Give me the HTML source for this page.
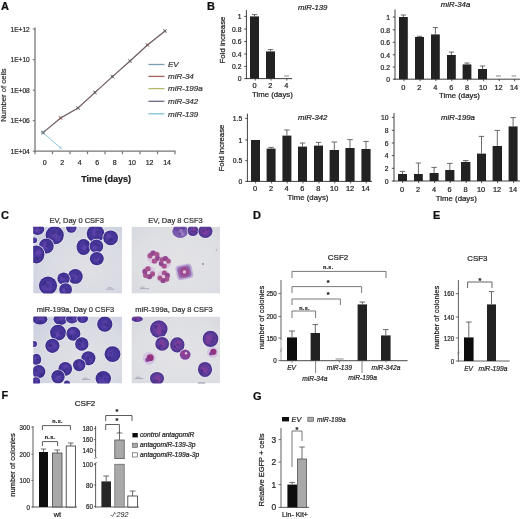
<!DOCTYPE html>
<html><head><meta charset="utf-8"><title>Figure</title>
<style>
html,body{margin:0;padding:0;background:#fff;}
body{width:520px;height:519px;overflow:hidden;font-family:"Liberation Sans",sans-serif;}
svg{display:block;font-family:"Liberation Sans",sans-serif;}
</style></head><body>
<svg width="520" height="519" viewBox="0 0 520 519">
<defs><filter id="tb" x="0" y="0" width="520" height="519" filterUnits="userSpaceOnUse"><feGaussianBlur stdDeviation="0.32"/></filter></defs>
<rect width="520" height="519" fill="#fff"/>
<g filter="url(#tb)">
<text x="1" y="9.9" font-size="11" text-anchor="start" font-weight="bold" font-style="normal" fill="#111" stroke="#111" stroke-width="0.22">A</text>
<line x1="35" y1="27.5" x2="35" y2="151.7" stroke="#767676" stroke-width="1.3"/>
<line x1="34.5" y1="151.2" x2="175.5" y2="151.2" stroke="#767676" stroke-width="1.3"/>
<line x1="32.8" y1="29" x2="35" y2="29" stroke="#767676" stroke-width="1.1"/>
<text x="0" y="0" font-size="6.9" text-anchor="end" font-weight="normal" font-style="normal" fill="#2a2a2a" stroke="#2a2a2a" stroke-width="0.22" transform="translate(29.8 31.5) scale(0.96 1)">1E+12</text>
<line x1="32.8" y1="59.6" x2="35" y2="59.6" stroke="#767676" stroke-width="1.1"/>
<text x="0" y="0" font-size="6.9" text-anchor="end" font-weight="normal" font-style="normal" fill="#2a2a2a" stroke="#2a2a2a" stroke-width="0.22" transform="translate(29.8 62.1) scale(0.96 1)">1E+10</text>
<line x1="32.8" y1="90.2" x2="35" y2="90.2" stroke="#767676" stroke-width="1.1"/>
<text x="0" y="0" font-size="6.9" text-anchor="end" font-weight="normal" font-style="normal" fill="#2a2a2a" stroke="#2a2a2a" stroke-width="0.22" transform="translate(29.8 92.7) scale(0.96 1)">1E+08</text>
<line x1="32.8" y1="120.6" x2="35" y2="120.6" stroke="#767676" stroke-width="1.1"/>
<text x="0" y="0" font-size="6.9" text-anchor="end" font-weight="normal" font-style="normal" fill="#2a2a2a" stroke="#2a2a2a" stroke-width="0.22" transform="translate(29.8 123.1) scale(0.96 1)">1E+06</text>
<line x1="32.8" y1="151.2" x2="35" y2="151.2" stroke="#767676" stroke-width="1.1"/>
<text x="0" y="0" font-size="6.9" text-anchor="end" font-weight="normal" font-style="normal" fill="#2a2a2a" stroke="#2a2a2a" stroke-width="0.22" transform="translate(29.8 153.7) scale(0.96 1)">1E+04</text>
<line x1="35.0" y1="151.2" x2="35.0" y2="154.2" stroke="#767676" stroke-width="1.2"/>
<line x1="52.5" y1="151.2" x2="52.5" y2="154.2" stroke="#767676" stroke-width="1.2"/>
<line x1="70.0" y1="151.2" x2="70.0" y2="154.2" stroke="#767676" stroke-width="1.2"/>
<line x1="87.5" y1="151.2" x2="87.5" y2="154.2" stroke="#767676" stroke-width="1.2"/>
<line x1="105.0" y1="151.2" x2="105.0" y2="154.2" stroke="#767676" stroke-width="1.2"/>
<line x1="122.5" y1="151.2" x2="122.5" y2="154.2" stroke="#767676" stroke-width="1.2"/>
<line x1="140.0" y1="151.2" x2="140.0" y2="154.2" stroke="#767676" stroke-width="1.2"/>
<line x1="157.5" y1="151.2" x2="157.5" y2="154.2" stroke="#767676" stroke-width="1.2"/>
<line x1="175.0" y1="151.2" x2="175.0" y2="154.2" stroke="#767676" stroke-width="1.2"/>
<text x="44.6" y="165.2" font-size="7" text-anchor="middle" font-weight="normal" font-style="normal" fill="#2a2a2a" stroke="#2a2a2a" stroke-width="0.22">0</text>
<text x="62.1" y="165.2" font-size="7" text-anchor="middle" font-weight="normal" font-style="normal" fill="#2a2a2a" stroke="#2a2a2a" stroke-width="0.22">2</text>
<text x="79.6" y="165.2" font-size="7" text-anchor="middle" font-weight="normal" font-style="normal" fill="#2a2a2a" stroke="#2a2a2a" stroke-width="0.22">4</text>
<text x="97.1" y="165.2" font-size="7" text-anchor="middle" font-weight="normal" font-style="normal" fill="#2a2a2a" stroke="#2a2a2a" stroke-width="0.22">6</text>
<text x="114.6" y="165.2" font-size="7" text-anchor="middle" font-weight="normal" font-style="normal" fill="#2a2a2a" stroke="#2a2a2a" stroke-width="0.22">8</text>
<text x="132.1" y="165.2" font-size="7" text-anchor="middle" font-weight="normal" font-style="normal" fill="#2a2a2a" stroke="#2a2a2a" stroke-width="0.22">10</text>
<text x="149.6" y="165.2" font-size="7" text-anchor="middle" font-weight="normal" font-style="normal" fill="#2a2a2a" stroke="#2a2a2a" stroke-width="0.22">12</text>
<text x="167.1" y="165.2" font-size="7" text-anchor="middle" font-weight="normal" font-style="normal" fill="#2a2a2a" stroke="#2a2a2a" stroke-width="0.22">14</text>
<text x="106.2" y="181.6" font-size="9" text-anchor="middle" font-weight="bold" font-style="normal" fill="#1a1a1a" stroke="#1a1a1a" stroke-width="0.22">Time (days)</text>
<text x="6.3" y="95" font-size="7.7" text-anchor="middle" font-weight="normal" font-style="normal" fill="#333" stroke="#333" stroke-width="0.22" transform="rotate(-90 6.3 95)">Number of cells</text>
<polyline points="43,132.6 60.6,148" fill="none" stroke="#7fc0d6" stroke-width="0.9"/>
<polyline points="43,132.6 60.6,118 78,108 95,92.4 112.4,76.6 130,61 147.4,45 165,31" fill="none" stroke="#665c62" stroke-width="1.1"/>
<polyline points="43,132.6 60.6,118 78,108 95,92.4 112.4,76.6 130,61 147.4,45 165,31" fill="none" stroke="#8a5a58" stroke-width="0.3" transform="translate(0.3,0.3)"/>
<rect x="41.8" y="131.4" width="2.4" height="2.4" fill="#6a686c" stroke="none" stroke-width="1"/>
<line x1="41.2" y1="130.79999999999998" x2="44.8" y2="134.4" stroke="#6a686c" stroke-width="0.8"/>
<line x1="41.2" y1="134.4" x2="44.8" y2="130.79999999999998" stroke="#6a686c" stroke-width="0.8"/>
<rect x="59.4" y="116.8" width="2.4" height="2.4" fill="#8c6262" stroke="none" stroke-width="1"/>
<line x1="58.800000000000004" y1="116.2" x2="62.4" y2="119.8" stroke="#8c6262" stroke-width="0.8"/>
<line x1="58.800000000000004" y1="119.8" x2="62.4" y2="116.2" stroke="#8c6262" stroke-width="0.8"/>
<rect x="76.8" y="106.8" width="2.4" height="2.4" fill="#6a686c" stroke="none" stroke-width="1"/>
<line x1="76.2" y1="106.2" x2="79.8" y2="109.8" stroke="#6a686c" stroke-width="0.8"/>
<line x1="76.2" y1="109.8" x2="79.8" y2="106.2" stroke="#6a686c" stroke-width="0.8"/>
<rect x="93.8" y="91.2" width="2.4" height="2.4" fill="#6a686c" stroke="none" stroke-width="1"/>
<line x1="93.2" y1="90.60000000000001" x2="96.8" y2="94.2" stroke="#6a686c" stroke-width="0.8"/>
<line x1="93.2" y1="94.2" x2="96.8" y2="90.60000000000001" stroke="#6a686c" stroke-width="0.8"/>
<rect x="111.2" y="75.39999999999999" width="2.4" height="2.4" fill="#6a686c" stroke="none" stroke-width="1"/>
<line x1="110.60000000000001" y1="74.8" x2="114.2" y2="78.39999999999999" stroke="#6a686c" stroke-width="0.8"/>
<line x1="110.60000000000001" y1="78.39999999999999" x2="114.2" y2="74.8" stroke="#6a686c" stroke-width="0.8"/>
<rect x="128.8" y="59.8" width="2.4" height="2.4" fill="#6a686c" stroke="none" stroke-width="1"/>
<line x1="128.2" y1="59.2" x2="131.8" y2="62.8" stroke="#6a686c" stroke-width="0.8"/>
<line x1="128.2" y1="62.8" x2="131.8" y2="59.2" stroke="#6a686c" stroke-width="0.8"/>
<rect x="146.20000000000002" y="43.8" width="2.4" height="2.4" fill="#8c6262" stroke="none" stroke-width="1"/>
<line x1="145.6" y1="43.2" x2="149.20000000000002" y2="46.8" stroke="#8c6262" stroke-width="0.8"/>
<line x1="145.6" y1="46.8" x2="149.20000000000002" y2="43.2" stroke="#8c6262" stroke-width="0.8"/>
<rect x="163.8" y="29.8" width="2.4" height="2.4" fill="#6a686c" stroke="none" stroke-width="1"/>
<line x1="163.2" y1="29.2" x2="166.8" y2="32.8" stroke="#6a686c" stroke-width="0.8"/>
<line x1="163.2" y1="32.8" x2="166.8" y2="29.2" stroke="#6a686c" stroke-width="0.8"/>
<rect x="41.7" y="131.29999999999998" width="2.6" height="2.6" fill="#6d8a96" stroke="none" stroke-width="1"/>
<line x1="59.4" y1="146.8" x2="61.8" y2="149.2" stroke="#7fc0d6" stroke-width="0.8"/>
<line x1="59.4" y1="149.2" x2="61.8" y2="146.8" stroke="#7fc0d6" stroke-width="0.8"/>
<line x1="148.4" y1="64.5" x2="164.4" y2="64.5" stroke="#7a9db6" stroke-width="1.3"/>
<text x="168" y="67.3" font-size="8" text-anchor="start" font-weight="normal" font-style="italic" fill="#333" stroke="#333" stroke-width="0.22">EV</text>
<line x1="148.4" y1="76.4" x2="164.4" y2="76.4" stroke="#a3625a" stroke-width="1.3"/>
<text x="168" y="79.2" font-size="8" text-anchor="start" font-weight="normal" font-style="italic" fill="#333" stroke="#333" stroke-width="0.22">miR-34</text>
<line x1="148.4" y1="88.6" x2="164.4" y2="88.6" stroke="#b4b66e" stroke-width="1.3"/>
<text x="168" y="91.39999999999999" font-size="8" text-anchor="start" font-weight="normal" font-style="italic" fill="#333" stroke="#333" stroke-width="0.22">miR-199a</text>
<line x1="148.4" y1="101.3" x2="164.4" y2="101.3" stroke="#6c6880" stroke-width="1.3"/>
<text x="168" y="104.1" font-size="8" text-anchor="start" font-weight="normal" font-style="italic" fill="#333" stroke="#333" stroke-width="0.22">miR-342</text>
<line x1="148.4" y1="113.8" x2="164.4" y2="113.8" stroke="#7fc0d6" stroke-width="1.3"/>
<text x="168" y="116.6" font-size="8" text-anchor="start" font-weight="normal" font-style="italic" fill="#333" stroke="#333" stroke-width="0.22">miR-139</text>
<text x="207" y="9.8" font-size="11" text-anchor="start" font-weight="bold" font-style="normal" fill="#111" stroke="#111" stroke-width="0.22">B</text>
<line x1="246.4" y1="10" x2="246.4" y2="79.0" stroke="#2a2a2a" stroke-width="0.9"/>
<line x1="246.0" y1="78.6" x2="292" y2="78.6" stroke="#2a2a2a" stroke-width="0.9"/>
<line x1="244.20000000000002" y1="16.4" x2="246.4" y2="16.4" stroke="#2a2a2a" stroke-width="0.8"/>
<text x="0" y="0" font-size="7.4" text-anchor="end" font-weight="normal" font-style="normal" fill="#222" stroke="#222" stroke-width="0.22" transform="translate(241.5 19.099999999999998) scale(0.92 1)">1</text>
<line x1="244.20000000000002" y1="29" x2="246.4" y2="29" stroke="#2a2a2a" stroke-width="0.8"/>
<text x="0" y="0" font-size="7.4" text-anchor="end" font-weight="normal" font-style="normal" fill="#222" stroke="#222" stroke-width="0.22" transform="translate(241.5 31.7) scale(0.92 1)">0.8</text>
<line x1="244.20000000000002" y1="41.5" x2="246.4" y2="41.5" stroke="#2a2a2a" stroke-width="0.8"/>
<text x="0" y="0" font-size="7.4" text-anchor="end" font-weight="normal" font-style="normal" fill="#222" stroke="#222" stroke-width="0.22" transform="translate(241.5 44.2) scale(0.92 1)">0.6</text>
<line x1="244.20000000000002" y1="54" x2="246.4" y2="54" stroke="#2a2a2a" stroke-width="0.8"/>
<text x="0" y="0" font-size="7.4" text-anchor="end" font-weight="normal" font-style="normal" fill="#222" stroke="#222" stroke-width="0.22" transform="translate(241.5 56.7) scale(0.92 1)">0.4</text>
<line x1="244.20000000000002" y1="66.4" x2="246.4" y2="66.4" stroke="#2a2a2a" stroke-width="0.8"/>
<text x="0" y="0" font-size="7.4" text-anchor="end" font-weight="normal" font-style="normal" fill="#222" stroke="#222" stroke-width="0.22" transform="translate(241.5 69.10000000000001) scale(0.92 1)">0.2</text>
<line x1="244.20000000000002" y1="78.6" x2="246.4" y2="78.6" stroke="#2a2a2a" stroke-width="0.8"/>
<text x="0" y="0" font-size="7.4" text-anchor="end" font-weight="normal" font-style="normal" fill="#222" stroke="#222" stroke-width="0.22" transform="translate(241.5 81.3) scale(0.92 1)">0</text>
<rect x="250" y="16.4" width="9" height="62.199999999999996" fill="#232323" stroke="none" stroke-width="0.8"/>
<line x1="254.5" y1="16.4" x2="254.5" y2="14.6" stroke="#5a5a5a" stroke-width="0.9"/>
<line x1="251.8" y1="14.6" x2="257.2" y2="14.6" stroke="#5a5a5a" stroke-width="0.9"/>
<rect x="266" y="51.4" width="9" height="27.199999999999996" fill="#232323" stroke="none" stroke-width="0.8"/>
<line x1="270.5" y1="51.4" x2="270.5" y2="49.6" stroke="#5a5a5a" stroke-width="0.9"/>
<line x1="267.8" y1="49.6" x2="273.2" y2="49.6" stroke="#5a5a5a" stroke-width="0.9"/>
<line x1="284" y1="76" x2="289" y2="76" stroke="#555" stroke-width="0.7"/>
<text x="254.6" y="88.3" font-size="7.4" text-anchor="middle" font-weight="normal" font-style="normal" fill="#222" stroke="#222" stroke-width="0.22">0</text>
<text x="270.4" y="88.3" font-size="7.4" text-anchor="middle" font-weight="normal" font-style="normal" fill="#222" stroke="#222" stroke-width="0.22">2</text>
<text x="286.2" y="88.3" font-size="7.4" text-anchor="middle" font-weight="normal" font-style="normal" fill="#222" stroke="#222" stroke-width="0.22">4</text>
<line x1="255.2" y1="78.6" x2="255.2" y2="80.6" stroke="#2a2a2a" stroke-width="0.8"/>
<line x1="271.0" y1="78.6" x2="271.0" y2="80.6" stroke="#2a2a2a" stroke-width="0.8"/>
<line x1="286.8" y1="78.6" x2="286.8" y2="80.6" stroke="#2a2a2a" stroke-width="0.8"/>
<text x="272.4" y="96.8" font-size="7.8" text-anchor="middle" font-weight="normal" font-style="normal" fill="#222" stroke="#222" stroke-width="0.22">Time (days)</text>
<text x="312.7" y="9.8" font-size="7.8" text-anchor="middle" font-weight="normal" font-style="italic" fill="#222" stroke="#222" stroke-width="0.22">miR-139</text>
<text x="224.8" y="40" font-size="7.8" text-anchor="middle" font-weight="normal" font-style="normal" fill="#222" stroke="#222" stroke-width="0.22" transform="rotate(-90 224.8 40)">Fold increase</text>
<line x1="395" y1="9.5" x2="395" y2="79.60000000000001" stroke="#2a2a2a" stroke-width="0.9"/>
<line x1="394.6" y1="79.2" x2="520" y2="79.2" stroke="#2a2a2a" stroke-width="0.9"/>
<line x1="392.8" y1="17" x2="395" y2="17" stroke="#2a2a2a" stroke-width="0.8"/>
<text x="0" y="0" font-size="7.4" text-anchor="end" font-weight="normal" font-style="normal" fill="#222" stroke="#222" stroke-width="0.22" transform="translate(390 19.7) scale(0.92 1)">1</text>
<line x1="392.8" y1="29.8" x2="395" y2="29.8" stroke="#2a2a2a" stroke-width="0.8"/>
<text x="0" y="0" font-size="7.4" text-anchor="end" font-weight="normal" font-style="normal" fill="#222" stroke="#222" stroke-width="0.22" transform="translate(390 32.5) scale(0.92 1)">0.8</text>
<line x1="392.8" y1="42.3" x2="395" y2="42.3" stroke="#2a2a2a" stroke-width="0.8"/>
<text x="0" y="0" font-size="7.4" text-anchor="end" font-weight="normal" font-style="normal" fill="#222" stroke="#222" stroke-width="0.22" transform="translate(390 45.0) scale(0.92 1)">0.6</text>
<line x1="392.8" y1="54.8" x2="395" y2="54.8" stroke="#2a2a2a" stroke-width="0.8"/>
<text x="0" y="0" font-size="7.4" text-anchor="end" font-weight="normal" font-style="normal" fill="#222" stroke="#222" stroke-width="0.22" transform="translate(390 57.5) scale(0.92 1)">0.4</text>
<line x1="392.8" y1="67" x2="395" y2="67" stroke="#2a2a2a" stroke-width="0.8"/>
<text x="0" y="0" font-size="7.4" text-anchor="end" font-weight="normal" font-style="normal" fill="#222" stroke="#222" stroke-width="0.22" transform="translate(390 69.7) scale(0.92 1)">0.2</text>
<line x1="392.8" y1="79.2" x2="395" y2="79.2" stroke="#2a2a2a" stroke-width="0.8"/>
<text x="0" y="0" font-size="7.4" text-anchor="end" font-weight="normal" font-style="normal" fill="#222" stroke="#222" stroke-width="0.22" transform="translate(390 81.9) scale(0.92 1)">0</text>
<rect x="399" y="17" width="8.800000000000011" height="62.2" fill="#232323" stroke="none" stroke-width="0.8"/>
<line x1="403.4" y1="17" x2="403.4" y2="15" stroke="#5a5a5a" stroke-width="0.9"/>
<line x1="400.76" y1="15" x2="406.03999999999996" y2="15" stroke="#5a5a5a" stroke-width="0.9"/>
<rect x="415" y="37" width="9" height="42.2" fill="#232323" stroke="none" stroke-width="0.8"/>
<line x1="419.5" y1="37" x2="419.5" y2="36.3" stroke="#5a5a5a" stroke-width="0.9"/>
<line x1="416.8" y1="36.3" x2="422.2" y2="36.3" stroke="#5a5a5a" stroke-width="0.9"/>
<rect x="431" y="34.4" width="8.800000000000011" height="44.800000000000004" fill="#232323" stroke="none" stroke-width="0.8"/>
<line x1="435.4" y1="34.4" x2="435.4" y2="27.6" stroke="#5a5a5a" stroke-width="0.9"/>
<line x1="432.76" y1="27.6" x2="438.03999999999996" y2="27.6" stroke="#5a5a5a" stroke-width="0.9"/>
<rect x="447" y="55" width="8.800000000000011" height="24.200000000000003" fill="#232323" stroke="none" stroke-width="0.8"/>
<line x1="451.4" y1="55" x2="451.4" y2="52" stroke="#5a5a5a" stroke-width="0.9"/>
<line x1="448.76" y1="52" x2="454.03999999999996" y2="52" stroke="#5a5a5a" stroke-width="0.9"/>
<rect x="462.6" y="64.4" width="8.799999999999955" height="14.799999999999997" fill="#232323" stroke="none" stroke-width="0.8"/>
<line x1="467.0" y1="64.4" x2="467.0" y2="63" stroke="#5a5a5a" stroke-width="0.9"/>
<line x1="464.36" y1="63" x2="469.64" y2="63" stroke="#5a5a5a" stroke-width="0.9"/>
<rect x="478" y="69" width="9" height="10.200000000000003" fill="#232323" stroke="none" stroke-width="0.8"/>
<line x1="482.5" y1="69" x2="482.5" y2="66" stroke="#5a5a5a" stroke-width="0.9"/>
<line x1="479.8" y1="66" x2="485.2" y2="66" stroke="#5a5a5a" stroke-width="0.9"/>
<line x1="496" y1="76" x2="501" y2="76" stroke="#555" stroke-width="0.7"/>
<line x1="511.6" y1="76" x2="516.2" y2="76" stroke="#555" stroke-width="0.7"/>
<text x="403.4" y="89.8" font-size="7.4" text-anchor="middle" font-weight="normal" font-style="normal" fill="#222" stroke="#222" stroke-width="0.22">0</text>
<text x="419.4" y="89.8" font-size="7.4" text-anchor="middle" font-weight="normal" font-style="normal" fill="#222" stroke="#222" stroke-width="0.22">2</text>
<text x="435.2" y="89.8" font-size="7.4" text-anchor="middle" font-weight="normal" font-style="normal" fill="#222" stroke="#222" stroke-width="0.22">4</text>
<text x="451.2" y="89.8" font-size="7.4" text-anchor="middle" font-weight="normal" font-style="normal" fill="#222" stroke="#222" stroke-width="0.22">6</text>
<text x="467" y="89.8" font-size="7.4" text-anchor="middle" font-weight="normal" font-style="normal" fill="#222" stroke="#222" stroke-width="0.22">8</text>
<text x="483" y="89.8" font-size="7.4" text-anchor="middle" font-weight="normal" font-style="normal" fill="#222" stroke="#222" stroke-width="0.22">10</text>
<text x="498.6" y="89.8" font-size="7.4" text-anchor="middle" font-weight="normal" font-style="normal" fill="#222" stroke="#222" stroke-width="0.22">12</text>
<text x="514" y="89.8" font-size="7.4" text-anchor="middle" font-weight="normal" font-style="normal" fill="#222" stroke="#222" stroke-width="0.22">14</text>
<line x1="404.0" y1="79.2" x2="404.0" y2="81.2" stroke="#2a2a2a" stroke-width="0.8"/>
<line x1="420.0" y1="79.2" x2="420.0" y2="81.2" stroke="#2a2a2a" stroke-width="0.8"/>
<line x1="435.8" y1="79.2" x2="435.8" y2="81.2" stroke="#2a2a2a" stroke-width="0.8"/>
<line x1="451.8" y1="79.2" x2="451.8" y2="81.2" stroke="#2a2a2a" stroke-width="0.8"/>
<line x1="467.6" y1="79.2" x2="467.6" y2="81.2" stroke="#2a2a2a" stroke-width="0.8"/>
<line x1="483.6" y1="79.2" x2="483.6" y2="81.2" stroke="#2a2a2a" stroke-width="0.8"/>
<line x1="499.20000000000005" y1="79.2" x2="499.20000000000005" y2="81.2" stroke="#2a2a2a" stroke-width="0.8"/>
<line x1="514.6" y1="79.2" x2="514.6" y2="81.2" stroke="#2a2a2a" stroke-width="0.8"/>
<text x="459.5" y="98.4" font-size="7.8" text-anchor="middle" font-weight="normal" font-style="normal" fill="#222" stroke="#222" stroke-width="0.22">Time (days)</text>
<text x="455.5" y="7.2" font-size="7.8" text-anchor="middle" font-weight="normal" font-style="italic" fill="#222" stroke="#222" stroke-width="0.22">miR-34a</text>
<line x1="247.4" y1="113.6" x2="247.4" y2="181.8" stroke="#2a2a2a" stroke-width="0.9"/>
<line x1="247.0" y1="181.4" x2="372" y2="181.4" stroke="#2a2a2a" stroke-width="0.9"/>
<line x1="245.20000000000002" y1="118.4" x2="247.4" y2="118.4" stroke="#2a2a2a" stroke-width="0.8"/>
<text x="0" y="0" font-size="7.4" text-anchor="end" font-weight="normal" font-style="normal" fill="#222" stroke="#222" stroke-width="0.22" transform="translate(242.3 121.10000000000001) scale(0.92 1)">1.5</text>
<line x1="245.20000000000002" y1="140" x2="247.4" y2="140" stroke="#2a2a2a" stroke-width="0.8"/>
<text x="0" y="0" font-size="7.4" text-anchor="end" font-weight="normal" font-style="normal" fill="#222" stroke="#222" stroke-width="0.22" transform="translate(242.3 142.7) scale(0.92 1)">1</text>
<line x1="245.20000000000002" y1="160.7" x2="247.4" y2="160.7" stroke="#2a2a2a" stroke-width="0.8"/>
<text x="0" y="0" font-size="7.4" text-anchor="end" font-weight="normal" font-style="normal" fill="#222" stroke="#222" stroke-width="0.22" transform="translate(242.3 163.39999999999998) scale(0.92 1)">0.5</text>
<line x1="245.20000000000002" y1="181.4" x2="247.4" y2="181.4" stroke="#2a2a2a" stroke-width="0.8"/>
<text x="0" y="0" font-size="7.4" text-anchor="end" font-weight="normal" font-style="normal" fill="#222" stroke="#222" stroke-width="0.22" transform="translate(242.3 184.1) scale(0.92 1)">0</text>
<rect x="251" y="140" width="9" height="41.400000000000006" fill="#232323" stroke="none" stroke-width="0.8"/>
<rect x="266.6" y="148.6" width="9.0" height="32.80000000000001" fill="#232323" stroke="none" stroke-width="0.8"/>
<line x1="271.1" y1="148.6" x2="271.1" y2="147.4" stroke="#5a5a5a" stroke-width="0.9"/>
<line x1="268.40000000000003" y1="147.4" x2="273.8" y2="147.4" stroke="#5a5a5a" stroke-width="0.9"/>
<rect x="282.4" y="135.6" width="9.0" height="45.80000000000001" fill="#232323" stroke="none" stroke-width="0.8"/>
<line x1="286.9" y1="135.6" x2="286.9" y2="130" stroke="#5a5a5a" stroke-width="0.9"/>
<line x1="284.2" y1="130" x2="289.59999999999997" y2="130" stroke="#5a5a5a" stroke-width="0.9"/>
<rect x="298" y="146.6" width="9" height="34.80000000000001" fill="#232323" stroke="none" stroke-width="0.8"/>
<line x1="302.5" y1="146.6" x2="302.5" y2="143" stroke="#5a5a5a" stroke-width="0.9"/>
<line x1="299.8" y1="143" x2="305.2" y2="143" stroke="#5a5a5a" stroke-width="0.9"/>
<rect x="314" y="145.6" width="9" height="35.80000000000001" fill="#232323" stroke="none" stroke-width="0.8"/>
<line x1="318.5" y1="145.6" x2="318.5" y2="142.4" stroke="#5a5a5a" stroke-width="0.9"/>
<line x1="315.8" y1="142.4" x2="321.2" y2="142.4" stroke="#5a5a5a" stroke-width="0.9"/>
<rect x="329.6" y="150" width="9.399999999999977" height="31.400000000000006" fill="#232323" stroke="none" stroke-width="0.8"/>
<line x1="334.3" y1="150" x2="334.3" y2="142" stroke="#5a5a5a" stroke-width="0.9"/>
<line x1="331.48" y1="142" x2="337.12" y2="142" stroke="#5a5a5a" stroke-width="0.9"/>
<rect x="345.4" y="148" width="9.200000000000045" height="33.400000000000006" fill="#232323" stroke="none" stroke-width="0.8"/>
<line x1="350.0" y1="148" x2="350.0" y2="139.6" stroke="#5a5a5a" stroke-width="0.9"/>
<line x1="347.24" y1="139.6" x2="352.76" y2="139.6" stroke="#5a5a5a" stroke-width="0.9"/>
<rect x="361.4" y="149" width="9.200000000000045" height="32.400000000000006" fill="#232323" stroke="none" stroke-width="0.8"/>
<line x1="366.0" y1="149" x2="366.0" y2="141.4" stroke="#5a5a5a" stroke-width="0.9"/>
<line x1="363.24" y1="141.4" x2="368.76" y2="141.4" stroke="#5a5a5a" stroke-width="0.9"/>
<text x="255" y="191.3" font-size="7.4" text-anchor="middle" font-weight="normal" font-style="normal" fill="#222" stroke="#222" stroke-width="0.22">0</text>
<text x="271" y="191.3" font-size="7.4" text-anchor="middle" font-weight="normal" font-style="normal" fill="#222" stroke="#222" stroke-width="0.22">2</text>
<text x="286.6" y="191.3" font-size="7.4" text-anchor="middle" font-weight="normal" font-style="normal" fill="#222" stroke="#222" stroke-width="0.22">4</text>
<text x="302.4" y="191.3" font-size="7.4" text-anchor="middle" font-weight="normal" font-style="normal" fill="#222" stroke="#222" stroke-width="0.22">6</text>
<text x="318.4" y="191.3" font-size="7.4" text-anchor="middle" font-weight="normal" font-style="normal" fill="#222" stroke="#222" stroke-width="0.22">8</text>
<text x="334.2" y="191.3" font-size="7.4" text-anchor="middle" font-weight="normal" font-style="normal" fill="#222" stroke="#222" stroke-width="0.22">10</text>
<text x="350" y="191.3" font-size="7.4" text-anchor="middle" font-weight="normal" font-style="normal" fill="#222" stroke="#222" stroke-width="0.22">12</text>
<text x="365.6" y="191.3" font-size="7.4" text-anchor="middle" font-weight="normal" font-style="normal" fill="#222" stroke="#222" stroke-width="0.22">14</text>
<line x1="255.6" y1="181.4" x2="255.6" y2="183.4" stroke="#2a2a2a" stroke-width="0.8"/>
<line x1="271.6" y1="181.4" x2="271.6" y2="183.4" stroke="#2a2a2a" stroke-width="0.8"/>
<line x1="287.20000000000005" y1="181.4" x2="287.20000000000005" y2="183.4" stroke="#2a2a2a" stroke-width="0.8"/>
<line x1="303.0" y1="181.4" x2="303.0" y2="183.4" stroke="#2a2a2a" stroke-width="0.8"/>
<line x1="319.0" y1="181.4" x2="319.0" y2="183.4" stroke="#2a2a2a" stroke-width="0.8"/>
<line x1="334.8" y1="181.4" x2="334.8" y2="183.4" stroke="#2a2a2a" stroke-width="0.8"/>
<line x1="350.6" y1="181.4" x2="350.6" y2="183.4" stroke="#2a2a2a" stroke-width="0.8"/>
<line x1="366.20000000000005" y1="181.4" x2="366.20000000000005" y2="183.4" stroke="#2a2a2a" stroke-width="0.8"/>
<text x="308" y="200.3" font-size="7.8" text-anchor="middle" font-weight="normal" font-style="normal" fill="#222" stroke="#222" stroke-width="0.22">Time (days)</text>
<text x="312.7" y="120.2" font-size="7.8" text-anchor="middle" font-weight="normal" font-style="italic" fill="#222" stroke="#222" stroke-width="0.22">miR-342</text>
<text x="224.4" y="148" font-size="7.8" text-anchor="middle" font-weight="normal" font-style="normal" fill="#222" stroke="#222" stroke-width="0.22" transform="rotate(-90 224.4 148)">Fold increase</text>
<line x1="394" y1="113" x2="394" y2="181.4" stroke="#2a2a2a" stroke-width="0.9"/>
<line x1="393.6" y1="181" x2="520" y2="181" stroke="#2a2a2a" stroke-width="0.9"/>
<line x1="391.8" y1="117.4" x2="394" y2="117.4" stroke="#2a2a2a" stroke-width="0.8"/>
<text x="0" y="0" font-size="7.4" text-anchor="end" font-weight="normal" font-style="normal" fill="#222" stroke="#222" stroke-width="0.22" transform="translate(388.5 120.10000000000001) scale(0.92 1)">10</text>
<line x1="391.8" y1="130.3" x2="394" y2="130.3" stroke="#2a2a2a" stroke-width="0.8"/>
<text x="0" y="0" font-size="7.4" text-anchor="end" font-weight="normal" font-style="normal" fill="#222" stroke="#222" stroke-width="0.22" transform="translate(388.5 133.0) scale(0.92 1)">8</text>
<line x1="391.8" y1="143" x2="394" y2="143" stroke="#2a2a2a" stroke-width="0.8"/>
<text x="0" y="0" font-size="7.4" text-anchor="end" font-weight="normal" font-style="normal" fill="#222" stroke="#222" stroke-width="0.22" transform="translate(388.5 145.7) scale(0.92 1)">6</text>
<line x1="391.8" y1="155.6" x2="394" y2="155.6" stroke="#2a2a2a" stroke-width="0.8"/>
<text x="0" y="0" font-size="7.4" text-anchor="end" font-weight="normal" font-style="normal" fill="#222" stroke="#222" stroke-width="0.22" transform="translate(388.5 158.29999999999998) scale(0.92 1)">4</text>
<line x1="391.8" y1="168.3" x2="394" y2="168.3" stroke="#2a2a2a" stroke-width="0.8"/>
<text x="0" y="0" font-size="7.4" text-anchor="end" font-weight="normal" font-style="normal" fill="#222" stroke="#222" stroke-width="0.22" transform="translate(388.5 171.0) scale(0.92 1)">2</text>
<line x1="391.8" y1="181" x2="394" y2="181" stroke="#2a2a2a" stroke-width="0.8"/>
<text x="0" y="0" font-size="7.4" text-anchor="end" font-weight="normal" font-style="normal" fill="#222" stroke="#222" stroke-width="0.22" transform="translate(388.5 183.7) scale(0.92 1)">0</text>
<rect x="398" y="174" width="9" height="7" fill="#232323" stroke="none" stroke-width="0.8"/>
<line x1="402.5" y1="174" x2="402.5" y2="171.4" stroke="#5a5a5a" stroke-width="0.9"/>
<line x1="399.8" y1="171.4" x2="405.2" y2="171.4" stroke="#5a5a5a" stroke-width="0.9"/>
<rect x="414" y="174" width="8.800000000000011" height="7" fill="#232323" stroke="none" stroke-width="0.8"/>
<line x1="418.4" y1="174" x2="418.4" y2="163" stroke="#5a5a5a" stroke-width="0.9"/>
<line x1="415.76" y1="163" x2="421.03999999999996" y2="163" stroke="#5a5a5a" stroke-width="0.9"/>
<rect x="429.6" y="173" width="9.0" height="8" fill="#232323" stroke="none" stroke-width="0.8"/>
<line x1="434.1" y1="173" x2="434.1" y2="167.4" stroke="#5a5a5a" stroke-width="0.9"/>
<line x1="431.40000000000003" y1="167.4" x2="436.8" y2="167.4" stroke="#5a5a5a" stroke-width="0.9"/>
<rect x="445.2" y="170" width="9.199999999999989" height="11" fill="#232323" stroke="none" stroke-width="0.8"/>
<line x1="449.79999999999995" y1="170" x2="449.79999999999995" y2="163.4" stroke="#5a5a5a" stroke-width="0.9"/>
<line x1="447.03999999999996" y1="163.4" x2="452.55999999999995" y2="163.4" stroke="#5a5a5a" stroke-width="0.9"/>
<rect x="461" y="162" width="9.399999999999977" height="19" fill="#232323" stroke="none" stroke-width="0.8"/>
<line x1="465.7" y1="162" x2="465.7" y2="160.6" stroke="#5a5a5a" stroke-width="0.9"/>
<line x1="462.88" y1="160.6" x2="468.52" y2="160.6" stroke="#5a5a5a" stroke-width="0.9"/>
<rect x="477" y="153.6" width="9" height="27.400000000000006" fill="#232323" stroke="none" stroke-width="0.8"/>
<line x1="481.5" y1="153.6" x2="481.5" y2="136.4" stroke="#5a5a5a" stroke-width="0.9"/>
<line x1="478.8" y1="136.4" x2="484.2" y2="136.4" stroke="#5a5a5a" stroke-width="0.9"/>
<rect x="492.6" y="146" width="9.399999999999977" height="35" fill="#232323" stroke="none" stroke-width="0.8"/>
<line x1="497.3" y1="146" x2="497.3" y2="130.4" stroke="#5a5a5a" stroke-width="0.9"/>
<line x1="494.48" y1="130.4" x2="500.12" y2="130.4" stroke="#5a5a5a" stroke-width="0.9"/>
<rect x="508.6" y="126.4" width="9.0" height="54.599999999999994" fill="#232323" stroke="none" stroke-width="0.8"/>
<line x1="513.1" y1="126.4" x2="513.1" y2="117.6" stroke="#5a5a5a" stroke-width="0.9"/>
<line x1="510.40000000000003" y1="117.6" x2="515.8000000000001" y2="117.6" stroke="#5a5a5a" stroke-width="0.9"/>
<text x="402" y="192" font-size="7.4" text-anchor="middle" font-weight="normal" font-style="normal" fill="#222" stroke="#222" stroke-width="0.22">0</text>
<text x="418" y="192" font-size="7.4" text-anchor="middle" font-weight="normal" font-style="normal" fill="#222" stroke="#222" stroke-width="0.22">2</text>
<text x="434" y="192" font-size="7.4" text-anchor="middle" font-weight="normal" font-style="normal" fill="#222" stroke="#222" stroke-width="0.22">4</text>
<text x="449.6" y="192" font-size="7.4" text-anchor="middle" font-weight="normal" font-style="normal" fill="#222" stroke="#222" stroke-width="0.22">6</text>
<text x="465.6" y="192" font-size="7.4" text-anchor="middle" font-weight="normal" font-style="normal" fill="#222" stroke="#222" stroke-width="0.22">8</text>
<text x="481" y="192" font-size="7.4" text-anchor="middle" font-weight="normal" font-style="normal" fill="#222" stroke="#222" stroke-width="0.22">10</text>
<text x="497" y="192" font-size="7.4" text-anchor="middle" font-weight="normal" font-style="normal" fill="#222" stroke="#222" stroke-width="0.22">12</text>
<text x="513" y="192" font-size="7.4" text-anchor="middle" font-weight="normal" font-style="normal" fill="#222" stroke="#222" stroke-width="0.22">14</text>
<line x1="402.6" y1="181" x2="402.6" y2="183" stroke="#2a2a2a" stroke-width="0.8"/>
<line x1="418.6" y1="181" x2="418.6" y2="183" stroke="#2a2a2a" stroke-width="0.8"/>
<line x1="434.6" y1="181" x2="434.6" y2="183" stroke="#2a2a2a" stroke-width="0.8"/>
<line x1="450.20000000000005" y1="181" x2="450.20000000000005" y2="183" stroke="#2a2a2a" stroke-width="0.8"/>
<line x1="466.20000000000005" y1="181" x2="466.20000000000005" y2="183" stroke="#2a2a2a" stroke-width="0.8"/>
<line x1="481.6" y1="181" x2="481.6" y2="183" stroke="#2a2a2a" stroke-width="0.8"/>
<line x1="497.6" y1="181" x2="497.6" y2="183" stroke="#2a2a2a" stroke-width="0.8"/>
<line x1="513.6" y1="181" x2="513.6" y2="183" stroke="#2a2a2a" stroke-width="0.8"/>
<text x="456.3" y="200.8" font-size="7.8" text-anchor="middle" font-weight="normal" font-style="normal" fill="#222" stroke="#222" stroke-width="0.22">Time (days)</text>
<text x="458" y="120.2" font-size="7.8" text-anchor="middle" font-weight="normal" font-style="italic" fill="#222" stroke="#222" stroke-width="0.22">miR-199a</text>
<text x="1" y="218.5" font-size="11" text-anchor="start" font-weight="bold" font-style="normal" fill="#111" stroke="#111" stroke-width="0.22">C</text>
<text x="76.7" y="222.7" font-size="7.5" text-anchor="middle" font-weight="normal" font-style="normal" fill="#333" stroke="#333" stroke-width="0.22">EV, Day 0 CSF3</text>
<text x="175.5" y="222.7" font-size="7.5" text-anchor="middle" font-weight="normal" font-style="normal" fill="#333" stroke="#333" stroke-width="0.22">EV, Day 8 CSF3</text>
<text x="75.5" y="312.1" font-size="7.5" text-anchor="middle" font-weight="normal" font-style="normal" fill="#333" stroke="#333" stroke-width="0.22">miR-199a, Day 0 CSF3</text>
<text x="174" y="312.1" font-size="7.5" text-anchor="middle" font-weight="normal" font-style="normal" fill="#333" stroke="#333" stroke-width="0.22">miR-199a, Day 8 CSF3</text>
<defs>
<clipPath id="c1"><rect x="33.2" y="226.8" width="88.8" height="66.7"/></clipPath>
<clipPath id="c2"><rect x="131.5" y="226.8" width="88.5" height="66.7"/></clipPath>
<clipPath id="c3"><rect x="33.2" y="316.6" width="88.8" height="66.8"/></clipPath>
<clipPath id="c4"><rect x="131.5" y="316.6" width="88.5" height="66.8"/></clipPath>
<radialGradient id="gBlast" cx="0.5" cy="0.5" r="0.5"><stop offset="0" stop-color="#4b399e"/><stop offset="0.75" stop-color="#453498"/><stop offset="1" stop-color="#382a86"/></radialGradient>
<radialGradient id="gBlastP" cx="0.5" cy="0.5" r="0.5"><stop offset="0" stop-color="#7a42a2"/><stop offset="0.65" stop-color="#5e3c9a"/><stop offset="1" stop-color="#48328c"/></radialGradient>
<radialGradient id="bg1" cx="0.6" cy="0.6" r="0.85"><stop offset="0" stop-color="#e0e0e5"/><stop offset="0.55" stop-color="#d9dbe3"/><stop offset="1" stop-color="#c6cce0"/></radialGradient>
<radialGradient id="bg2" cx="0.55" cy="0.55" r="0.85"><stop offset="0" stop-color="#e3e3e6"/><stop offset="0.6" stop-color="#dedfe3"/><stop offset="1" stop-color="#d2d5de"/></radialGradient>
<filter id="soft" x="-5%" y="-5%" width="110%" height="110%"><feGaussianBlur stdDeviation="0.55"/></filter>
<filter id="soft2" x="-20%" y="-20%" width="140%" height="140%"><feGaussianBlur stdDeviation="0.6"/></filter>
</defs>
<g clip-path="url(#c1)"><rect x="33.2" y="226.8" width="88.8" height="66.7" fill="url(#bg1)"/><g filter="url(#soft)">
<ellipse cx="54.7" cy="235.2" rx="9.799999999999999" ry="9.799999999999999" fill="#e9e8f2"/>
<ellipse cx="54.7" cy="235.2" rx="9.1" ry="9.1" fill="url(#gBlast)"/>
<circle cx="55.9" cy="233.4" r="3.0" fill="#6646b0" opacity="0.45"/>
<circle cx="54.8" cy="234.9" r="3.0" fill="#6646b0" opacity="0.45"/>
<circle cx="58.0" cy="238.5" r="3.0" fill="#6646b0" opacity="0.45"/>
<circle cx="58.6" cy="233.3" r="2.0" fill="#30237a" opacity="0.45"/>
<circle cx="54.3" cy="232.5" r="2.0" fill="#30237a" opacity="0.45"/>
<ellipse cx="37.6" cy="229.3" rx="7.3" ry="6.3" fill="#e9e8f2"/>
<ellipse cx="37.6" cy="229.3" rx="6.6" ry="5.6" fill="url(#gBlast)"/>
<circle cx="38.3" cy="231.0" r="2.2" fill="#6646b0" opacity="0.45"/>
<circle cx="35.6" cy="229.1" r="2.2" fill="#6646b0" opacity="0.45"/>
<circle cx="36.7" cy="230.4" r="2.2" fill="#6646b0" opacity="0.45"/>
<circle cx="34.9" cy="227.2" r="1.5" fill="#30237a" opacity="0.45"/>
<circle cx="39.8" cy="227.0" r="1.5" fill="#30237a" opacity="0.45"/>
<ellipse cx="46.3" cy="246" rx="8.1" ry="8.1" fill="#e9e8f2"/>
<ellipse cx="46.3" cy="246" rx="7.4" ry="7.4" fill="url(#gBlast)"/>
<circle cx="45.9" cy="246.9" r="2.4" fill="#6646b0" opacity="0.45"/>
<circle cx="45.0" cy="244.2" r="2.4" fill="#6646b0" opacity="0.45"/>
<circle cx="44.2" cy="247.2" r="2.4" fill="#6646b0" opacity="0.45"/>
<circle cx="47.2" cy="246.1" r="1.6" fill="#30237a" opacity="0.45"/>
<circle cx="48.3" cy="243.9" r="1.6" fill="#30237a" opacity="0.45"/>
<ellipse cx="36.4" cy="254.4" rx="8.7" ry="9.7" fill="#e9e8f2"/>
<ellipse cx="36.4" cy="254.4" rx="8" ry="9" fill="url(#gBlast)"/>
<circle cx="39.3" cy="251.9" r="2.6" fill="#6646b0" opacity="0.45"/>
<circle cx="38.6" cy="253.1" r="2.6" fill="#6646b0" opacity="0.45"/>
<circle cx="37.8" cy="252.8" r="2.6" fill="#6646b0" opacity="0.45"/>
<circle cx="33.5" cy="250.5" r="1.8" fill="#30237a" opacity="0.45"/>
<circle cx="36.8" cy="258.2" r="1.8" fill="#30237a" opacity="0.45"/>
<ellipse cx="71.3" cy="227.6" rx="5.9" ry="5.9" fill="#e9e8f2"/>
<ellipse cx="71.3" cy="227.6" rx="5.2" ry="5.2" fill="url(#gBlast)"/>
<circle cx="73.3" cy="226.1" r="1.7" fill="#6646b0" opacity="0.45"/>
<circle cx="73.3" cy="229.4" r="1.7" fill="#6646b0" opacity="0.45"/>
<circle cx="71.7" cy="229.3" r="1.7" fill="#6646b0" opacity="0.45"/>
<circle cx="71.2" cy="226.3" r="1.1" fill="#30237a" opacity="0.45"/>
<circle cx="68.9" cy="229.2" r="1.1" fill="#30237a" opacity="0.45"/>
<ellipse cx="95.6" cy="233.6" rx="9.6" ry="9.299999999999999" fill="#e9e8f2"/>
<ellipse cx="95.6" cy="233.6" rx="8.9" ry="8.6" fill="url(#gBlast)"/>
<circle cx="94.6" cy="233.6" r="2.9" fill="#6646b0" opacity="0.45"/>
<circle cx="95.4" cy="231.2" r="2.9" fill="#6646b0" opacity="0.45"/>
<circle cx="97.4" cy="235.0" r="2.9" fill="#6646b0" opacity="0.45"/>
<circle cx="96.9" cy="236.4" r="2.0" fill="#30237a" opacity="0.45"/>
<circle cx="97.2" cy="232.5" r="2.0" fill="#30237a" opacity="0.45"/>
<ellipse cx="110.6" cy="237.8" rx="8.1" ry="8.1" fill="#e9e8f2"/>
<ellipse cx="110.6" cy="237.8" rx="7.4" ry="7.4" fill="url(#gBlast)"/>
<circle cx="108.4" cy="238.8" r="2.4" fill="#6646b0" opacity="0.45"/>
<circle cx="108.3" cy="235.5" r="2.4" fill="#6646b0" opacity="0.45"/>
<circle cx="108.7" cy="236.2" r="2.4" fill="#6646b0" opacity="0.45"/>
<circle cx="111.4" cy="239.4" r="1.6" fill="#30237a" opacity="0.45"/>
<circle cx="109.3" cy="239.9" r="1.6" fill="#30237a" opacity="0.45"/>
<ellipse cx="83.6" cy="247" rx="7.7" ry="8.7" fill="#e9e8f2"/>
<ellipse cx="83.6" cy="247" rx="7" ry="8" fill="url(#gBlast)"/>
<circle cx="85.0" cy="248.2" r="2.3" fill="#6646b0" opacity="0.45"/>
<circle cx="83.7" cy="247.2" r="2.3" fill="#6646b0" opacity="0.45"/>
<circle cx="85.0" cy="248.5" r="2.3" fill="#6646b0" opacity="0.45"/>
<circle cx="87.0" cy="243.0" r="1.5" fill="#30237a" opacity="0.45"/>
<circle cx="87.1" cy="248.9" r="1.5" fill="#30237a" opacity="0.45"/>
<ellipse cx="96.4" cy="246.2" rx="7.5" ry="7.5" fill="#e9e8f2"/>
<ellipse cx="96.4" cy="246.2" rx="6.8" ry="6.8" fill="url(#gBlast)"/>
<circle cx="95.3" cy="246.7" r="2.2" fill="#6646b0" opacity="0.45"/>
<circle cx="94.2" cy="248.3" r="2.2" fill="#6646b0" opacity="0.45"/>
<circle cx="98.8" cy="245.3" r="2.2" fill="#6646b0" opacity="0.45"/>
<circle cx="98.1" cy="245.5" r="1.5" fill="#30237a" opacity="0.45"/>
<circle cx="96.0" cy="244.5" r="1.5" fill="#30237a" opacity="0.45"/>
<ellipse cx="96.8" cy="258.6" rx="7.7" ry="7.3" fill="#e9e8f2"/>
<ellipse cx="96.8" cy="258.6" rx="7" ry="6.6" fill="url(#gBlast)"/>
<circle cx="98.2" cy="259.3" r="2.3" fill="#6646b0" opacity="0.45"/>
<circle cx="96.6" cy="259.2" r="2.3" fill="#6646b0" opacity="0.45"/>
<circle cx="97.3" cy="258.9" r="2.3" fill="#6646b0" opacity="0.45"/>
<circle cx="100.0" cy="260.7" r="1.5" fill="#30237a" opacity="0.45"/>
<circle cx="96.6" cy="258.2" r="1.5" fill="#30237a" opacity="0.45"/>
<ellipse cx="75.3" cy="276.4" rx="8.1" ry="8.1" fill="#e9e8f2"/>
<ellipse cx="75.3" cy="276.4" rx="7.4" ry="7.4" fill="url(#gBlast)"/>
<circle cx="73.8" cy="276.5" r="2.4" fill="#6646b0" opacity="0.45"/>
<circle cx="77.4" cy="275.4" r="2.4" fill="#6646b0" opacity="0.45"/>
<circle cx="75.4" cy="277.9" r="2.4" fill="#6646b0" opacity="0.45"/>
<circle cx="77.3" cy="274.7" r="1.6" fill="#30237a" opacity="0.45"/>
<circle cx="73.5" cy="277.8" r="1.6" fill="#30237a" opacity="0.45"/>
<ellipse cx="63.6" cy="278.6" rx="6.9" ry="6.9" fill="#e9e8f2"/>
<ellipse cx="63.6" cy="278.6" rx="6.2" ry="6.2" fill="url(#gBlast)"/>
<circle cx="61.8" cy="278.1" r="2.0" fill="#6646b0" opacity="0.45"/>
<circle cx="65.9" cy="278.3" r="2.0" fill="#6646b0" opacity="0.45"/>
<circle cx="61.8" cy="279.5" r="2.0" fill="#6646b0" opacity="0.45"/>
<circle cx="65.9" cy="277.6" r="1.4" fill="#30237a" opacity="0.45"/>
<circle cx="63.2" cy="276.2" r="1.4" fill="#30237a" opacity="0.45"/>
<ellipse cx="48" cy="285.6" rx="9.799999999999999" ry="9.799999999999999" fill="#e9e8f2"/>
<ellipse cx="48" cy="285.6" rx="9.1" ry="9.1" fill="url(#gBlast)"/>
<circle cx="45.0" cy="288.0" r="3.0" fill="#6646b0" opacity="0.45"/>
<circle cx="49.0" cy="283.9" r="3.0" fill="#6646b0" opacity="0.45"/>
<circle cx="49.3" cy="287.9" r="3.0" fill="#6646b0" opacity="0.45"/>
<circle cx="44.4" cy="283.2" r="2.0" fill="#30237a" opacity="0.45"/>
<circle cx="47.7" cy="286.1" r="2.0" fill="#30237a" opacity="0.45"/>
<ellipse cx="65.6" cy="289.6" rx="7.1000000000000005" ry="7.1000000000000005" fill="#e9e8f2"/>
<ellipse cx="65.6" cy="289.6" rx="6.4" ry="6.4" fill="url(#gBlast)"/>
<circle cx="64.4" cy="291.1" r="2.1" fill="#6646b0" opacity="0.45"/>
<circle cx="64.3" cy="290.5" r="2.1" fill="#6646b0" opacity="0.45"/>
<circle cx="63.8" cy="289.8" r="2.1" fill="#6646b0" opacity="0.45"/>
<circle cx="66.2" cy="289.7" r="1.4" fill="#30237a" opacity="0.45"/>
<circle cx="67.2" cy="292.7" r="1.4" fill="#30237a" opacity="0.45"/>
<ellipse cx="34.3" cy="240.3" rx="3.5" ry="3.5" fill="#e9e8f2"/>
<ellipse cx="34.3" cy="240.3" rx="2.8" ry="2.8" fill="url(#gBlast)"/>
<circle cx="33.8" cy="241.2" r="0.9" fill="#6646b0" opacity="0.45"/>
<circle cx="35.0" cy="239.6" r="0.9" fill="#6646b0" opacity="0.45"/>
<circle cx="34.5" cy="241.3" r="0.9" fill="#6646b0" opacity="0.45"/>
<circle cx="34.0" cy="239.1" r="0.6" fill="#30237a" opacity="0.45"/>
<circle cx="34.4" cy="240.7" r="0.6" fill="#30237a" opacity="0.45"/>
</g>
</g>
<g clip-path="url(#c2)"><rect x="131.5" y="226.8" width="88.5" height="66.7" fill="url(#bg2)"/><g filter="url(#soft)">
<ellipse cx="180.2" cy="231.2" rx="8.5" ry="7.5" fill="#e6e3ee"/>
<ellipse cx="180.2" cy="231.2" rx="7.9" ry="6.9" fill="#7a5cae"/>
<circle cx="180.7" cy="229.8" r="2.4" fill="#5a3a9a" opacity="0.6"/>
<circle cx="182.8" cy="228.1" r="2.4" fill="#5a3a9a" opacity="0.6"/>
<circle cx="176.4" cy="228.9" r="2.4" fill="#5a3a9a" opacity="0.6"/>
<circle cx="181.1" cy="233.1" r="2.4" fill="#5a3a9a" opacity="0.6"/>
<circle cx="182.5" cy="233.9" r="2.0" fill="#a88cc8" opacity="0.7"/>
<circle cx="181.0" cy="230.9" r="2.0" fill="#a88cc8" opacity="0.7"/>
<ellipse cx="192.9" cy="230.6" rx="6.1000000000000005" ry="6.1000000000000005" fill="#e9e6f0"/>
<ellipse cx="192.9" cy="230.6" rx="5.4" ry="5.4" fill="url(#gBlastP)"/>
<circle cx="194.2" cy="229.4" r="1.6" fill="#8a3c9c" opacity="0.5"/>
<circle cx="194.3" cy="231.1" r="1.6" fill="#8a3c9c" opacity="0.5"/>
<circle cx="194.8" cy="229.5" r="1.6" fill="#8a3c9c" opacity="0.5"/>
<circle cx="195.4" cy="231.5" r="1.2" fill="#3a2a86" opacity="0.5"/>
<circle cx="192.5" cy="231.3" r="1.2" fill="#3a2a86" opacity="0.5"/>
<ellipse cx="205.4" cy="231.2" rx="7.7" ry="7.5" fill="#e9e6f0"/>
<ellipse cx="205.4" cy="231.2" rx="7" ry="6.8" fill="url(#gBlastP)"/>
<circle cx="207.1" cy="231.1" r="2.1" fill="#8a3c9c" opacity="0.5"/>
<circle cx="205.8" cy="232.7" r="2.1" fill="#8a3c9c" opacity="0.5"/>
<circle cx="203.0" cy="231.6" r="2.1" fill="#8a3c9c" opacity="0.5"/>
<circle cx="203.5" cy="230.7" r="1.5" fill="#3a2a86" opacity="0.5"/>
<circle cx="207.2" cy="229.4" r="1.5" fill="#3a2a86" opacity="0.5"/>
<g filter="url(#soft2)">
<circle cx="153.8" cy="257.1" r="6.9" fill="#dac6e0"/>
<circle cx="150.2" cy="255.8" r="2.7" fill="#a6528e"/>
<circle cx="153.1" cy="253.3" r="2.7" fill="#91468f"/>
<circle cx="156.7" cy="254.6" r="2.7" fill="#a6528e"/>
<circle cx="157.4" cy="258.4" r="2.7" fill="#91468f"/>
<circle cx="154.5" cy="260.9" r="2.7" fill="#a6528e"/>
<circle cx="153.8" cy="257.1" r="1.7" fill="#e4cde2"/>
</g>
<g filter="url(#soft2)">
<circle cx="164.8" cy="262.3" r="6.6" fill="#dac6e0"/>
<circle cx="164.2" cy="265.9" r="2.6" fill="#a6528e"/>
<circle cx="161.4" cy="263.6" r="2.6" fill="#91468f"/>
<circle cx="162.0" cy="259.9" r="2.6" fill="#a6528e"/>
<circle cx="165.4" cy="258.7" r="2.6" fill="#91468f"/>
<circle cx="168.2" cy="261.0" r="2.6" fill="#a6528e"/>
<circle cx="164.8" cy="262.3" r="1.6" fill="#e4cde2"/>
</g>
<g filter="url(#soft2)">
<circle cx="148.7" cy="272.7" r="6.9" fill="#dac6e0"/>
<circle cx="152.3" cy="274.0" r="2.7" fill="#a6528e"/>
<circle cx="149.4" cy="276.5" r="2.7" fill="#91468f"/>
<circle cx="145.8" cy="275.2" r="2.7" fill="#a6528e"/>
<circle cx="145.1" cy="271.4" r="2.7" fill="#91468f"/>
<circle cx="148.0" cy="268.9" r="2.7" fill="#a6528e"/>
<circle cx="148.7" cy="272.7" r="1.7" fill="#e4cde2"/>
</g>
<g filter="url(#soft2)">
<circle cx="163.7" cy="276.7" r="6.8" fill="#dac6e0"/>
<circle cx="164.4" cy="273.0" r="2.6" fill="#a6528e"/>
<circle cx="167.3" cy="275.4" r="2.6" fill="#91468f"/>
<circle cx="166.6" cy="279.1" r="2.6" fill="#a6528e"/>
<circle cx="163.0" cy="280.4" r="2.6" fill="#91468f"/>
<circle cx="160.1" cy="278.0" r="2.6" fill="#a6528e"/>
<circle cx="163.7" cy="276.7" r="1.6" fill="#e4cde2"/>
</g>
<g filter="url(#soft2)">
<rect x="176.20000000000002" y="264.52" width="16.4" height="14.76" rx="3.69" fill="#c2b0d6" transform="rotate(-12 184.4 271.9)"/>
<rect x="177.84" y="265.996" width="13.12" height="11.807999999999998" rx="3.28" fill="#936aae" transform="rotate(-12 184.4 271.9)"/>
<circle cx="184.4" cy="271.9" r="3.4" fill="none" stroke="#9e4a8e" stroke-width="2.8"/>
<circle cx="184.4" cy="271.9" r="1.6" fill="#e2c0dc"/>
</g>
<circle cx="203" cy="264" r="0.9" fill="#8a86a0"/><circle cx="216.4" cy="250" r="0.7" fill="#9a98b0"/>
</g>
</g>
<g clip-path="url(#c3)"><rect x="33.2" y="316.6" width="88.8" height="66.8" fill="url(#bg1)"/><g filter="url(#soft)">
<ellipse cx="40" cy="319.3" rx="8.1" ry="5.9" fill="#e9e8f2"/>
<ellipse cx="40" cy="319.3" rx="7.4" ry="5.2" fill="url(#gBlast)"/>
<circle cx="38.7" cy="320.1" r="2.4" fill="#6646b0" opacity="0.45"/>
<circle cx="41.1" cy="319.3" r="2.4" fill="#6646b0" opacity="0.45"/>
<circle cx="41.9" cy="319.8" r="2.4" fill="#6646b0" opacity="0.45"/>
<circle cx="41.3" cy="321.5" r="1.6" fill="#30237a" opacity="0.45"/>
<circle cx="39.4" cy="321.5" r="1.6" fill="#30237a" opacity="0.45"/>
<ellipse cx="60.5" cy="319.3" rx="7.7" ry="6.3" fill="#e9e8f2"/>
<ellipse cx="60.5" cy="319.3" rx="7" ry="5.6" fill="url(#gBlast)"/>
<circle cx="59.8" cy="317.7" r="2.3" fill="#6646b0" opacity="0.45"/>
<circle cx="58.4" cy="319.2" r="2.3" fill="#6646b0" opacity="0.45"/>
<circle cx="61.8" cy="318.4" r="2.3" fill="#6646b0" opacity="0.45"/>
<circle cx="58.6" cy="317.7" r="1.5" fill="#30237a" opacity="0.45"/>
<circle cx="60.1" cy="322.0" r="1.5" fill="#30237a" opacity="0.45"/>
<ellipse cx="72" cy="318.8" rx="6.7" ry="5.3" fill="#e9e8f2"/>
<ellipse cx="72" cy="318.8" rx="6" ry="4.6" fill="url(#gBlast)"/>
<circle cx="73.5" cy="318.1" r="2.0" fill="#6646b0" opacity="0.45"/>
<circle cx="74.1" cy="320.3" r="2.0" fill="#6646b0" opacity="0.45"/>
<circle cx="69.9" cy="319.9" r="2.0" fill="#6646b0" opacity="0.45"/>
<circle cx="70.2" cy="318.7" r="1.3" fill="#30237a" opacity="0.45"/>
<circle cx="71.5" cy="318.6" r="1.3" fill="#30237a" opacity="0.45"/>
<ellipse cx="82.6" cy="318.8" rx="6.2" ry="4.9" fill="#e9e8f2"/>
<ellipse cx="82.6" cy="318.8" rx="5.5" ry="4.2" fill="url(#gBlast)"/>
<circle cx="80.9" cy="317.7" r="1.8" fill="#6646b0" opacity="0.45"/>
<circle cx="81.9" cy="317.8" r="1.8" fill="#6646b0" opacity="0.45"/>
<circle cx="82.2" cy="320.1" r="1.8" fill="#6646b0" opacity="0.45"/>
<circle cx="83.8" cy="316.9" r="1.2" fill="#30237a" opacity="0.45"/>
<circle cx="80.1" cy="318.4" r="1.2" fill="#30237a" opacity="0.45"/>
<ellipse cx="104.8" cy="324.2" rx="8.299999999999999" ry="8.299999999999999" fill="#e9e8f2"/>
<ellipse cx="104.8" cy="324.2" rx="7.6" ry="7.6" fill="url(#gBlast)"/>
<circle cx="103.6" cy="325.9" r="2.5" fill="#6646b0" opacity="0.45"/>
<circle cx="105.6" cy="326.0" r="2.5" fill="#6646b0" opacity="0.45"/>
<circle cx="104.7" cy="322.5" r="2.5" fill="#6646b0" opacity="0.45"/>
<circle cx="106.6" cy="325.2" r="1.7" fill="#30237a" opacity="0.45"/>
<circle cx="104.2" cy="324.3" r="1.7" fill="#30237a" opacity="0.45"/>
<ellipse cx="58" cy="332.6" rx="8.6" ry="8.6" fill="#e9e8f2"/>
<ellipse cx="58" cy="332.6" rx="7.9" ry="7.9" fill="url(#gBlast)"/>
<circle cx="58.7" cy="334.2" r="2.6" fill="#6646b0" opacity="0.45"/>
<circle cx="56.6" cy="335.1" r="2.6" fill="#6646b0" opacity="0.45"/>
<circle cx="55.9" cy="334.6" r="2.6" fill="#6646b0" opacity="0.45"/>
<circle cx="60.7" cy="333.1" r="1.7" fill="#30237a" opacity="0.45"/>
<circle cx="54.7" cy="334.7" r="1.7" fill="#30237a" opacity="0.45"/>
<ellipse cx="73.4" cy="333.8" rx="7.7" ry="7.7" fill="#e9e8f2"/>
<ellipse cx="73.4" cy="333.8" rx="7" ry="7" fill="url(#gBlast)"/>
<circle cx="71.2" cy="331.6" r="2.3" fill="#6646b0" opacity="0.45"/>
<circle cx="73.0" cy="331.7" r="2.3" fill="#6646b0" opacity="0.45"/>
<circle cx="71.6" cy="332.3" r="2.3" fill="#6646b0" opacity="0.45"/>
<circle cx="70.6" cy="337.0" r="1.5" fill="#30237a" opacity="0.45"/>
<circle cx="70.2" cy="336.5" r="1.5" fill="#30237a" opacity="0.45"/>
<ellipse cx="52.4" cy="345.8" rx="7.8" ry="7.8" fill="#e9e8f2"/>
<ellipse cx="52.4" cy="345.8" rx="7.1" ry="7.1" fill="url(#gBlast)"/>
<circle cx="52.9" cy="343.9" r="2.3" fill="#6646b0" opacity="0.45"/>
<circle cx="50.2" cy="347.1" r="2.3" fill="#6646b0" opacity="0.45"/>
<circle cx="54.9" cy="346.5" r="2.3" fill="#6646b0" opacity="0.45"/>
<circle cx="51.1" cy="345.3" r="1.6" fill="#30237a" opacity="0.45"/>
<circle cx="49.7" cy="345.5" r="1.6" fill="#30237a" opacity="0.45"/>
<ellipse cx="81.8" cy="344" rx="7.4" ry="7.4" fill="#e9e8f2"/>
<ellipse cx="81.8" cy="344" rx="6.7" ry="6.7" fill="url(#gBlast)"/>
<circle cx="82.0" cy="343.4" r="2.2" fill="#6646b0" opacity="0.45"/>
<circle cx="83.2" cy="345.9" r="2.2" fill="#6646b0" opacity="0.45"/>
<circle cx="79.5" cy="346.6" r="2.2" fill="#6646b0" opacity="0.45"/>
<circle cx="79.9" cy="344.9" r="1.5" fill="#30237a" opacity="0.45"/>
<circle cx="80.9" cy="341.1" r="1.5" fill="#30237a" opacity="0.45"/>
<ellipse cx="112.5" cy="354.2" rx="8.6" ry="8.6" fill="#e9e8f2"/>
<ellipse cx="112.5" cy="354.2" rx="7.9" ry="7.9" fill="url(#gBlast)"/>
<circle cx="110.5" cy="353.3" r="2.6" fill="#6646b0" opacity="0.45"/>
<circle cx="109.9" cy="355.1" r="2.6" fill="#6646b0" opacity="0.45"/>
<circle cx="110.8" cy="352.4" r="2.6" fill="#6646b0" opacity="0.45"/>
<circle cx="109.7" cy="357.2" r="1.7" fill="#30237a" opacity="0.45"/>
<circle cx="110.7" cy="353.2" r="1.7" fill="#30237a" opacity="0.45"/>
<ellipse cx="88.4" cy="358.3" rx="7.7" ry="7.7" fill="#e9e8f2"/>
<ellipse cx="88.4" cy="358.3" rx="7" ry="7" fill="url(#gBlast)"/>
<circle cx="89.9" cy="360.4" r="2.3" fill="#6646b0" opacity="0.45"/>
<circle cx="90.5" cy="360.3" r="2.3" fill="#6646b0" opacity="0.45"/>
<circle cx="87.2" cy="356.0" r="2.3" fill="#6646b0" opacity="0.45"/>
<circle cx="88.0" cy="357.8" r="1.5" fill="#30237a" opacity="0.45"/>
<circle cx="89.0" cy="360.5" r="1.5" fill="#30237a" opacity="0.45"/>
<ellipse cx="36.4" cy="359.4" rx="5.5" ry="6.3" fill="#e9e8f2"/>
<ellipse cx="36.4" cy="359.4" rx="4.8" ry="5.6" fill="url(#gBlast)"/>
<circle cx="35.4" cy="357.9" r="1.6" fill="#6646b0" opacity="0.45"/>
<circle cx="38.2" cy="358.6" r="1.6" fill="#6646b0" opacity="0.45"/>
<circle cx="36.4" cy="359.6" r="1.6" fill="#6646b0" opacity="0.45"/>
<circle cx="37.5" cy="360.0" r="1.1" fill="#30237a" opacity="0.45"/>
<circle cx="38.0" cy="358.9" r="1.1" fill="#30237a" opacity="0.45"/>
<ellipse cx="79.2" cy="365.1" rx="6.9" ry="6.9" fill="#e9e8f2"/>
<ellipse cx="79.2" cy="365.1" rx="6.2" ry="6.2" fill="url(#gBlast)"/>
<circle cx="80.7" cy="365.9" r="2.0" fill="#6646b0" opacity="0.45"/>
<circle cx="79.1" cy="363.6" r="2.0" fill="#6646b0" opacity="0.45"/>
<circle cx="78.4" cy="363.7" r="2.0" fill="#6646b0" opacity="0.45"/>
<circle cx="77.5" cy="363.2" r="1.4" fill="#30237a" opacity="0.45"/>
<circle cx="76.8" cy="367.8" r="1.4" fill="#30237a" opacity="0.45"/>
<ellipse cx="65.3" cy="368.8" rx="7.6000000000000005" ry="7.6000000000000005" fill="#e9e8f2"/>
<ellipse cx="65.3" cy="368.8" rx="6.9" ry="6.9" fill="url(#gBlast)"/>
<circle cx="65.1" cy="366.8" r="2.3" fill="#6646b0" opacity="0.45"/>
<circle cx="67.5" cy="367.7" r="2.3" fill="#6646b0" opacity="0.45"/>
<circle cx="66.3" cy="368.0" r="2.3" fill="#6646b0" opacity="0.45"/>
<circle cx="64.7" cy="371.0" r="1.5" fill="#30237a" opacity="0.45"/>
<circle cx="66.8" cy="368.6" r="1.5" fill="#30237a" opacity="0.45"/>
<ellipse cx="38.8" cy="371.6" rx="7.3" ry="7.3" fill="#e9e8f2"/>
<ellipse cx="38.8" cy="371.6" rx="6.6" ry="6.6" fill="url(#gBlast)"/>
<circle cx="36.4" cy="369.3" r="2.2" fill="#6646b0" opacity="0.45"/>
<circle cx="40.1" cy="370.6" r="2.2" fill="#6646b0" opacity="0.45"/>
<circle cx="36.5" cy="373.4" r="2.2" fill="#6646b0" opacity="0.45"/>
<circle cx="41.7" cy="374.8" r="1.5" fill="#30237a" opacity="0.45"/>
<circle cx="36.1" cy="370.0" r="1.5" fill="#30237a" opacity="0.45"/>
<ellipse cx="58" cy="376.8" rx="7.4" ry="7.4" fill="#e9e8f2"/>
<ellipse cx="58" cy="376.8" rx="6.7" ry="6.7" fill="url(#gBlast)"/>
<circle cx="59.1" cy="375.2" r="2.2" fill="#6646b0" opacity="0.45"/>
<circle cx="57.1" cy="378.6" r="2.2" fill="#6646b0" opacity="0.45"/>
<circle cx="59.1" cy="377.3" r="2.2" fill="#6646b0" opacity="0.45"/>
<circle cx="60.3" cy="373.9" r="1.5" fill="#30237a" opacity="0.45"/>
<circle cx="58.2" cy="374.5" r="1.5" fill="#30237a" opacity="0.45"/>
<ellipse cx="103.3" cy="378.6" rx="8.4" ry="8.4" fill="#e9e8f2"/>
<ellipse cx="103.3" cy="378.6" rx="7.7" ry="7.7" fill="url(#gBlast)"/>
<circle cx="105.5" cy="377.7" r="2.5" fill="#6646b0" opacity="0.45"/>
<circle cx="105.2" cy="381.0" r="2.5" fill="#6646b0" opacity="0.45"/>
<circle cx="100.8" cy="380.9" r="2.5" fill="#6646b0" opacity="0.45"/>
<circle cx="100.2" cy="374.9" r="1.7" fill="#30237a" opacity="0.45"/>
<circle cx="105.5" cy="379.1" r="1.7" fill="#30237a" opacity="0.45"/>
<ellipse cx="34" cy="344" rx="3.7" ry="3.7" fill="#e9e8f2"/>
<ellipse cx="34" cy="344" rx="3" ry="3" fill="url(#gBlast)"/>
<circle cx="33.6" cy="344.8" r="1.0" fill="#6646b0" opacity="0.45"/>
<circle cx="34.1" cy="344.4" r="1.0" fill="#6646b0" opacity="0.45"/>
<circle cx="32.9" cy="342.9" r="1.0" fill="#6646b0" opacity="0.45"/>
<circle cx="33.7" cy="342.6" r="0.7" fill="#30237a" opacity="0.45"/>
<circle cx="35.4" cy="343.1" r="0.7" fill="#30237a" opacity="0.45"/>
<ellipse cx="67" cy="383.5" rx="3.7" ry="3.7" fill="#e9e8f2"/>
<ellipse cx="67" cy="383.5" rx="3" ry="3" fill="url(#gBlast)"/>
<circle cx="66.3" cy="383.6" r="1.0" fill="#6646b0" opacity="0.45"/>
<circle cx="67.8" cy="383.9" r="1.0" fill="#6646b0" opacity="0.45"/>
<circle cx="66.4" cy="384.6" r="1.0" fill="#6646b0" opacity="0.45"/>
<circle cx="66.5" cy="382.2" r="0.7" fill="#30237a" opacity="0.45"/>
<circle cx="66.8" cy="382.9" r="0.7" fill="#30237a" opacity="0.45"/>
<ellipse cx="36" cy="381.5" rx="4.9" ry="4.9" fill="#e9e8f2"/>
<ellipse cx="36" cy="381.5" rx="4.2" ry="4.2" fill="url(#gBlast)"/>
<circle cx="36.0" cy="379.9" r="1.4" fill="#6646b0" opacity="0.45"/>
<circle cx="35.7" cy="382.9" r="1.4" fill="#6646b0" opacity="0.45"/>
<circle cx="37.2" cy="380.1" r="1.4" fill="#6646b0" opacity="0.45"/>
<circle cx="34.9" cy="383.6" r="0.9" fill="#30237a" opacity="0.45"/>
<circle cx="34.9" cy="381.5" r="0.9" fill="#30237a" opacity="0.45"/>
</g>
</g>
<g clip-path="url(#c4)"><rect x="131.5" y="316.6" width="88.5" height="66.8" fill="url(#bg2)"/><g filter="url(#soft)">
<ellipse cx="158.8" cy="329.1" rx="9.5" ry="9.5" fill="#e9e6f0"/>
<ellipse cx="158.8" cy="329.1" rx="8.8" ry="8.8" fill="url(#gBlastP)"/>
<circle cx="157.6" cy="325.9" r="2.6" fill="#8a3c9c" opacity="0.5"/>
<circle cx="159.7" cy="331.7" r="2.6" fill="#8a3c9c" opacity="0.5"/>
<circle cx="159.1" cy="332.3" r="2.6" fill="#8a3c9c" opacity="0.5"/>
<circle cx="156.1" cy="326.8" r="1.9" fill="#3a2a86" opacity="0.5"/>
<circle cx="163.0" cy="331.6" r="1.9" fill="#3a2a86" opacity="0.5"/>
<ellipse cx="162.2" cy="343.9" rx="7.6000000000000005" ry="7.6000000000000005" fill="#e9e6f0"/>
<ellipse cx="162.2" cy="343.9" rx="6.9" ry="6.9" fill="url(#gBlastP)"/>
<circle cx="161.2" cy="341.3" r="2.1" fill="#8a3c9c" opacity="0.5"/>
<circle cx="162.2" cy="344.4" r="2.1" fill="#8a3c9c" opacity="0.5"/>
<circle cx="163.0" cy="345.7" r="2.1" fill="#8a3c9c" opacity="0.5"/>
<circle cx="159.3" cy="347.0" r="1.5" fill="#3a2a86" opacity="0.5"/>
<circle cx="161.2" cy="345.4" r="1.5" fill="#3a2a86" opacity="0.5"/>
<ellipse cx="177.3" cy="344.8" rx="7.9" ry="8.299999999999999" fill="#e9e6f0"/>
<ellipse cx="177.3" cy="344.8" rx="7.2" ry="7.6" fill="url(#gBlastP)"/>
<circle cx="175.0" cy="347.6" r="2.2" fill="#8a3c9c" opacity="0.5"/>
<circle cx="178.3" cy="342.7" r="2.2" fill="#8a3c9c" opacity="0.5"/>
<circle cx="179.2" cy="343.2" r="2.2" fill="#8a3c9c" opacity="0.5"/>
<circle cx="178.2" cy="344.5" r="1.6" fill="#3a2a86" opacity="0.5"/>
<circle cx="174.8" cy="346.6" r="1.6" fill="#3a2a86" opacity="0.5"/>
<ellipse cx="185.2" cy="354.6" rx="6.0" ry="5.8" fill="#e8e2ee"/>
<ellipse cx="185.2" cy="354.6" rx="5.4" ry="5.2" fill="#7d4a9e"/>
<circle cx="183.6" cy="353.5" r="2.4" fill="#9a3a8e" opacity="0.85"/>
<circle cx="187.1" cy="356.2" r="2.2" fill="#8e3a90" opacity="0.85"/>
<circle cx="186.0" cy="353.2" r="1.2" fill="#e6d4ea" opacity="0.9"/>
<circle cx="149.2" cy="358.3" r="6.4" fill="#d3c4e2"/>
<circle cx="150.2" cy="357.7" r="3.5" fill="#93307e"/>
<circle cx="147.3" cy="359.9" r="2.1" fill="#8a3c96"/>
<ellipse cx="210.5" cy="338.9" rx="8.5" ry="8.899999999999999" fill="#e9e6f0"/>
<ellipse cx="210.5" cy="338.9" rx="7.8" ry="8.2" fill="url(#gBlastP)"/>
<circle cx="207.4" cy="341.9" r="2.3" fill="#8a3c9c" opacity="0.5"/>
<circle cx="208.6" cy="338.2" r="2.3" fill="#8a3c9c" opacity="0.5"/>
<circle cx="208.0" cy="336.9" r="2.3" fill="#8a3c9c" opacity="0.5"/>
<circle cx="213.8" cy="338.2" r="1.7" fill="#3a2a86" opacity="0.5"/>
<circle cx="212.2" cy="341.4" r="1.7" fill="#3a2a86" opacity="0.5"/>
<circle cx="212.6" cy="352.4" r="5.6" fill="#d3c4e2"/>
<circle cx="213.4" cy="351.8" r="3.1" fill="#93307e"/>
<circle cx="210.9" cy="353.8" r="1.8" fill="#8a3c96"/>
<ellipse cx="205" cy="369.4" rx="7.8" ry="8.2" fill="#e9e6f0"/>
<ellipse cx="205" cy="369.4" rx="7.1" ry="7.5" fill="url(#gBlastP)"/>
<circle cx="205.2" cy="370.0" r="2.1" fill="#8a3c9c" opacity="0.5"/>
<circle cx="202.3" cy="368.6" r="2.1" fill="#8a3c9c" opacity="0.5"/>
<circle cx="203.8" cy="371.1" r="2.1" fill="#8a3c9c" opacity="0.5"/>
<circle cx="201.9" cy="372.6" r="1.6" fill="#3a2a86" opacity="0.5"/>
<circle cx="201.8" cy="370.5" r="1.6" fill="#3a2a86" opacity="0.5"/>
<ellipse cx="157" cy="378.4" rx="7.7" ry="7.1000000000000005" fill="#e9e6f0"/>
<ellipse cx="157" cy="378.4" rx="7" ry="6.4" fill="url(#gBlastP)"/>
<circle cx="157.5" cy="379.8" r="2.1" fill="#8a3c9c" opacity="0.5"/>
<circle cx="158.2" cy="376.9" r="2.1" fill="#8a3c9c" opacity="0.5"/>
<circle cx="158.5" cy="380.3" r="2.1" fill="#8a3c9c" opacity="0.5"/>
<circle cx="154.6" cy="381.3" r="1.5" fill="#3a2a86" opacity="0.5"/>
<circle cx="157.0" cy="381.1" r="1.5" fill="#3a2a86" opacity="0.5"/>
<ellipse cx="137.2" cy="319" rx="6.3" ry="3.7" fill="#e9e6f0"/>
<ellipse cx="137.2" cy="319" rx="5.6" ry="3" fill="url(#gBlastP)"/>
<circle cx="135.0" cy="318.8" r="1.7" fill="#8a3c9c" opacity="0.5"/>
<circle cx="136.8" cy="317.8" r="1.7" fill="#8a3c9c" opacity="0.5"/>
<circle cx="137.5" cy="318.9" r="1.7" fill="#8a3c9c" opacity="0.5"/>
<circle cx="135.8" cy="319.5" r="1.2" fill="#3a2a86" opacity="0.5"/>
<circle cx="135.2" cy="320.3" r="1.2" fill="#3a2a86" opacity="0.5"/>
</g>
</g>
<rect x="107.5" y="287.2" width="4.2" height="1.1" fill="#9a9aa8" stroke="none" stroke-width="1" opacity="0.6"/>
<rect x="140.5" y="286.6" width="4.2" height="1.1" fill="#9a9aa8" stroke="none" stroke-width="1" opacity="0.6"/>
<rect x="83" y="377.6" width="4.2" height="1.1" fill="#9a9aa8" stroke="none" stroke-width="1" opacity="0.6"/>
<rect x="136" y="376.6" width="4.2" height="1.1" fill="#9a9aa8" stroke="none" stroke-width="1" opacity="0.6"/>
<line x1="106" y1="289.2" x2="114" y2="289.2" stroke="#8c8c98" stroke-width="0.6"/>
<line x1="140" y1="288.6" x2="149" y2="288.6" stroke="#8c8c98" stroke-width="0.6"/>
<line x1="82" y1="379.5" x2="90" y2="379.5" stroke="#8c8c98" stroke-width="0.6"/>
<line x1="135" y1="378.5" x2="143" y2="378.5" stroke="#8c8c98" stroke-width="0.6"/>
<line x1="198" y1="383" x2="205" y2="383" stroke="#6c6c88" stroke-width="0.7"/>
<text x="253" y="218.5" font-size="11" text-anchor="start" font-weight="bold" font-style="normal" fill="#111" stroke="#111" stroke-width="0.22">D</text>
<text x="338" y="260.3" font-size="8.05" text-anchor="middle" font-weight="normal" font-style="normal" fill="#222" stroke="#222" stroke-width="0.22">CSF2</text>
<line x1="281" y1="280" x2="281" y2="340" stroke="#7c7c7c" stroke-width="1.2"/>
<line x1="281" y1="340" x2="281" y2="361.0" stroke="#a8a8a8" stroke-width="1.0"/>
<line x1="280.6" y1="360.6" x2="407.6" y2="360.6" stroke="#6c6c6c" stroke-width="1.1"/>
<line x1="278.4" y1="293.6" x2="281" y2="293.6" stroke="#555" stroke-width="0.8"/>
<text x="0" y="0" font-size="7.8" text-anchor="end" font-weight="normal" font-style="normal" fill="#222" stroke="#222" stroke-width="0.22" transform="translate(276.8 296.40000000000003) scale(0.8 1)">250</text>
<line x1="278.4" y1="316.6" x2="281" y2="316.6" stroke="#555" stroke-width="0.8"/>
<text x="0" y="0" font-size="7.8" text-anchor="end" font-weight="normal" font-style="normal" fill="#222" stroke="#222" stroke-width="0.22" transform="translate(276.8 319.40000000000003) scale(0.8 1)">200</text>
<line x1="278.4" y1="338" x2="281" y2="338" stroke="#555" stroke-width="0.8"/>
<text x="0" y="0" font-size="7.8" text-anchor="end" font-weight="normal" font-style="normal" fill="#222" stroke="#222" stroke-width="0.22" transform="translate(276.8 340.8) scale(0.8 1)">150</text>
<line x1="278.4" y1="360.6" x2="281" y2="360.6" stroke="#555" stroke-width="0.8"/>
<text x="0" y="0" font-size="7.8" text-anchor="end" font-weight="normal" font-style="normal" fill="#222" stroke="#222" stroke-width="0.22" transform="translate(276.8 363.40000000000003) scale(0.8 1)">0</text>
<line x1="279.8" y1="350.4" x2="282.2" y2="348.4" stroke="#777" stroke-width="0.6"/>
<line x1="279.8" y1="352.2" x2="282.2" y2="350.2" stroke="#777" stroke-width="0.6"/>
<text x="263.6" y="317.5" font-size="7.5" text-anchor="middle" font-weight="normal" font-style="normal" fill="#222" stroke="#222" stroke-width="0.22" transform="rotate(-90 263.6 317.5)">number of colonies</text>
<polyline points="292,278 292,271.4 386,271.4 386,278" fill="none" stroke="#6a6a6a" stroke-width="0.9"/>
<text x="328.2" y="269" font-size="5.4" text-anchor="middle" font-weight="bold" font-style="normal" fill="#222" stroke="#222" stroke-width="0.22" letter-spacing="0.3">n.s.</text>
<polyline points="292,293 292,286.6 361.6,286.6 361.6,293" fill="none" stroke="#6a6a6a" stroke-width="0.9"/>
<text x="328.2" y="285.45" font-size="7.2" text-anchor="middle" font-weight="bold" font-style="normal" fill="#1a1a1a" stroke="#1a1a1a" stroke-width="0.22">*</text>
<polyline points="292,305 292,299 340.4,299 340.4,305" fill="none" stroke="#6a6a6a" stroke-width="0.9"/>
<text x="328.2" y="297.25" font-size="7.2" text-anchor="middle" font-weight="bold" font-style="normal" fill="#1a1a1a" stroke="#1a1a1a" stroke-width="0.22">*</text>
<polyline points="292,318 292,311 315.6,311 315.6,318" fill="none" stroke="#6a6a6a" stroke-width="0.9"/>
<text x="304.5" y="310" font-size="5.4" text-anchor="middle" font-weight="bold" font-style="normal" fill="#222" stroke="#222" stroke-width="0.22" letter-spacing="0.3">n.s.</text>
<rect x="287" y="337.4" width="10" height="23.200000000000045" fill="#111" stroke="none" stroke-width="0.8"/>
<line x1="292.0" y1="337.4" x2="292.0" y2="331" stroke="#5a5a5a" stroke-width="0.9"/>
<line x1="289.0" y1="331" x2="295.0" y2="331" stroke="#5a5a5a" stroke-width="0.9"/>
<rect x="310.6" y="333" width="9.399999999999977" height="27.600000000000023" fill="#232323" stroke="none" stroke-width="0.8"/>
<line x1="315.3" y1="333" x2="315.3" y2="324.6" stroke="#5a5a5a" stroke-width="0.9"/>
<line x1="312.48" y1="324.6" x2="318.12" y2="324.6" stroke="#5a5a5a" stroke-width="0.9"/>
<line x1="335.6" y1="359" x2="343.6" y2="359" stroke="#555" stroke-width="0.7"/>
<rect x="357.6" y="304.4" width="9.399999999999977" height="56.200000000000045" fill="#232323" stroke="none" stroke-width="0.8"/>
<line x1="362.3" y1="304.4" x2="362.3" y2="302" stroke="#5a5a5a" stroke-width="0.9"/>
<line x1="359.48" y1="302" x2="365.12" y2="302" stroke="#5a5a5a" stroke-width="0.9"/>
<rect x="381" y="335.4" width="9.600000000000023" height="25.200000000000045" fill="#232323" stroke="none" stroke-width="0.8"/>
<line x1="385.8" y1="335.4" x2="385.8" y2="329.6" stroke="#5a5a5a" stroke-width="0.9"/>
<line x1="382.92" y1="329.6" x2="388.68" y2="329.6" stroke="#5a5a5a" stroke-width="0.9"/>
<line x1="315.6" y1="360.6" x2="315.6" y2="373" stroke="#666" stroke-width="0.8"/>
<line x1="362" y1="360.6" x2="362" y2="373" stroke="#666" stroke-width="0.8"/>
<line x1="339.4" y1="360.6" x2="339.4" y2="362.6" stroke="#666" stroke-width="0.8"/>
<line x1="386" y1="360.6" x2="386" y2="362.6" stroke="#666" stroke-width="0.8"/>
<line x1="292" y1="360.6" x2="292" y2="362.6" stroke="#666" stroke-width="0.8"/>
<text x="0" y="0" font-size="7.4" text-anchor="middle" font-weight="normal" font-style="italic" fill="#222" stroke="#222" stroke-width="0.22" transform="translate(291.6 370.3) scale(0.9 1)">EV</text>
<text x="0" y="0" font-size="7.4" text-anchor="middle" font-weight="normal" font-style="italic" fill="#222" stroke="#222" stroke-width="0.22" transform="translate(314.8 380.6) scale(0.9 1)">miR-34a</text>
<text x="0" y="0" font-size="7.4" text-anchor="middle" font-weight="normal" font-style="italic" fill="#222" stroke="#222" stroke-width="0.22" transform="translate(339.4 370.3) scale(0.9 1)">miR-139</text>
<text x="0" y="0" font-size="7.4" text-anchor="middle" font-weight="normal" font-style="italic" fill="#222" stroke="#222" stroke-width="0.22" transform="translate(362.6 380.4) scale(0.9 1)">miR-199a</text>
<text x="0" y="0" font-size="7.4" text-anchor="middle" font-weight="normal" font-style="italic" fill="#222" stroke="#222" stroke-width="0.22" transform="translate(386 370.3) scale(0.9 1)">miR-342a</text>
<text x="433" y="218.5" font-size="11" text-anchor="start" font-weight="bold" font-style="normal" fill="#111" stroke="#111" stroke-width="0.22">E</text>
<text x="477.4" y="260.9" font-size="7.9" text-anchor="middle" font-weight="normal" font-style="normal" fill="#222" stroke="#222" stroke-width="0.22">CSF3</text>
<line x1="458.4" y1="280" x2="458.4" y2="361.4" stroke="#4c4c4c" stroke-width="0.9"/>
<line x1="458.0" y1="361" x2="509.6" y2="361" stroke="#4c4c4c" stroke-width="0.9"/>
<line x1="455.79999999999995" y1="293.6" x2="458.4" y2="293.6" stroke="#4c4c4c" stroke-width="0.8"/>
<text x="0" y="0" font-size="7.8" text-anchor="end" font-weight="normal" font-style="normal" fill="#222" stroke="#222" stroke-width="0.22" transform="translate(454.2 296.40000000000003) scale(0.8 1)">160</text>
<line x1="455.79999999999995" y1="317" x2="458.4" y2="317" stroke="#4c4c4c" stroke-width="0.8"/>
<text x="0" y="0" font-size="7.8" text-anchor="end" font-weight="normal" font-style="normal" fill="#222" stroke="#222" stroke-width="0.22" transform="translate(454.2 319.8) scale(0.8 1)">140</text>
<line x1="455.79999999999995" y1="338" x2="458.4" y2="338" stroke="#4c4c4c" stroke-width="0.8"/>
<text x="0" y="0" font-size="7.8" text-anchor="end" font-weight="normal" font-style="normal" fill="#222" stroke="#222" stroke-width="0.22" transform="translate(454.2 340.8) scale(0.8 1)">120</text>
<line x1="455.79999999999995" y1="361" x2="458.4" y2="361" stroke="#4c4c4c" stroke-width="0.8"/>
<text x="0" y="0" font-size="7.8" text-anchor="end" font-weight="normal" font-style="normal" fill="#222" stroke="#222" stroke-width="0.22" transform="translate(454.2 363.8) scale(0.8 1)">0</text>
<line x1="457.2" y1="352.79999999999995" x2="459.59999999999997" y2="350.79999999999995" stroke="#777" stroke-width="0.6"/>
<line x1="457.2" y1="354.59999999999997" x2="459.59999999999997" y2="352.59999999999997" stroke="#777" stroke-width="0.6"/>
<text x="439" y="317.5" font-size="7.5" text-anchor="middle" font-weight="normal" font-style="normal" fill="#222" stroke="#222" stroke-width="0.22" transform="rotate(-90 439 317.5)">number of colonies</text>
<polyline points="467.6,288 467.6,282 492,282 492,288" fill="none" stroke="#555" stroke-width="0.9"/>
<text x="480" y="283.25" font-size="7.2" text-anchor="middle" font-weight="bold" font-style="normal" fill="#1a1a1a" stroke="#1a1a1a" stroke-width="0.22">*</text>
<rect x="464" y="337.4" width="9.600000000000023" height="23.600000000000023" fill="#111" stroke="none" stroke-width="0.8"/>
<line x1="468.8" y1="337.4" x2="468.8" y2="322" stroke="#5a5a5a" stroke-width="0.9"/>
<line x1="465.92" y1="322" x2="471.68" y2="322" stroke="#5a5a5a" stroke-width="0.9"/>
<rect x="487" y="304.4" width="9" height="56.60000000000002" fill="#232323" stroke="none" stroke-width="0.8"/>
<line x1="491.5" y1="304.4" x2="491.5" y2="291.6" stroke="#5a5a5a" stroke-width="0.9"/>
<line x1="488.8" y1="291.6" x2="494.2" y2="291.6" stroke="#5a5a5a" stroke-width="0.9"/>
<text x="0" y="0" font-size="7.4" text-anchor="middle" font-weight="normal" font-style="italic" fill="#222" stroke="#222" stroke-width="0.22" transform="translate(468.6 370.7) scale(0.9 1)">EV</text>
<text x="0" y="0" font-size="7.4" text-anchor="middle" font-weight="normal" font-style="italic" fill="#222" stroke="#222" stroke-width="0.22" transform="translate(493 370.7) scale(0.9 1)">miR-199a</text>
<text x="1.4" y="399.2" font-size="11" text-anchor="start" font-weight="bold" font-style="normal" fill="#111" stroke="#111" stroke-width="0.22">F</text>
<text x="85" y="406.3" font-size="8" text-anchor="middle" font-weight="normal" font-style="normal" fill="#222" stroke="#222" stroke-width="0.22">CSF2</text>
<line x1="33" y1="426" x2="33" y2="507.4" stroke="#4a4a4a" stroke-width="0.9"/>
<line x1="32.6" y1="507" x2="77" y2="507" stroke="#4a4a4a" stroke-width="0.9"/>
<line x1="31.3" y1="427" x2="33" y2="427" stroke="#4a4a4a" stroke-width="0.8"/>
<text x="0" y="0" font-size="7.8" text-anchor="end" font-weight="normal" font-style="normal" fill="#222" stroke="#222" stroke-width="0.22" transform="translate(30 429.8) scale(0.8 1)">300</text>
<line x1="31.3" y1="454.2" x2="33" y2="454.2" stroke="#4a4a4a" stroke-width="0.8"/>
<text x="0" y="0" font-size="7.8" text-anchor="end" font-weight="normal" font-style="normal" fill="#222" stroke="#222" stroke-width="0.22" transform="translate(30 457.0) scale(0.8 1)">200</text>
<line x1="31.3" y1="480.4" x2="33" y2="480.4" stroke="#4a4a4a" stroke-width="0.8"/>
<text x="0" y="0" font-size="7.8" text-anchor="end" font-weight="normal" font-style="normal" fill="#222" stroke="#222" stroke-width="0.22" transform="translate(30 483.2) scale(0.8 1)">100</text>
<line x1="31.3" y1="507" x2="33" y2="507" stroke="#4a4a4a" stroke-width="0.8"/>
<text x="0" y="0" font-size="7.8" text-anchor="end" font-weight="normal" font-style="normal" fill="#222" stroke="#222" stroke-width="0.22" transform="translate(30 509.8) scale(0.8 1)">0</text>
<text x="14.6" y="465" font-size="7.5" text-anchor="middle" font-weight="normal" font-style="normal" fill="#222" stroke="#222" stroke-width="0.22" transform="rotate(-90 14.6 465)">number of colonies</text>
<polyline points="42.4,430 42.4,425.6 70.4,425.6 70.4,430" fill="none" stroke="#333" stroke-width="0.8"/>
<text x="57.5" y="423" font-size="5.4" text-anchor="middle" font-weight="bold" font-style="normal" fill="#222" stroke="#222" stroke-width="0.22" letter-spacing="0.3">n.s.</text>
<polyline points="42.4,446 42.4,441.6 57.6,441.6 57.6,446" fill="none" stroke="#333" stroke-width="0.8"/>
<text x="50" y="439" font-size="5.4" text-anchor="middle" font-weight="bold" font-style="normal" fill="#222" stroke="#222" stroke-width="0.22" letter-spacing="0.3">n.s.</text>
<rect x="39" y="452" width="9" height="55" fill="#111" stroke="none" stroke-width="0.8"/>
<line x1="43.5" y1="452" x2="43.5" y2="449" stroke="#5a5a5a" stroke-width="0.9"/>
<line x1="40.8" y1="449" x2="46.2" y2="449" stroke="#5a5a5a" stroke-width="0.9"/>
<rect x="52.6" y="453" width="9.399999999999999" height="54" fill="#a9a9a9" stroke="#444" stroke-width="0.8"/>
<line x1="57.3" y1="453" x2="57.3" y2="450" stroke="#5a5a5a" stroke-width="0.9"/>
<line x1="54.48" y1="450" x2="60.12" y2="450" stroke="#5a5a5a" stroke-width="0.9"/>
<rect x="66.2" y="446" width="9.200000000000003" height="61" fill="#fff" stroke="#333" stroke-width="0.8"/>
<line x1="70.80000000000001" y1="446" x2="70.80000000000001" y2="443" stroke="#5a5a5a" stroke-width="0.9"/>
<line x1="68.04" y1="443" x2="73.56000000000002" y2="443" stroke="#5a5a5a" stroke-width="0.9"/>
<text x="57.4" y="517.4" font-size="7.4" text-anchor="middle" font-weight="normal" font-style="normal" fill="#222" stroke="#222" stroke-width="0.22">wt</text>
<line x1="95.6" y1="426" x2="95.6" y2="457.5" stroke="#4a4a4a" stroke-width="0.9"/>
<line x1="95.6" y1="463" x2="95.6" y2="507.4" stroke="#4a4a4a" stroke-width="0.9"/>
<line x1="95.19999999999999" y1="507" x2="139" y2="507" stroke="#4a4a4a" stroke-width="0.9"/>
<line x1="94.0" y1="458.6" x2="97.19999999999999" y2="457.4" stroke="#4a4a4a" stroke-width="0.6"/>
<line x1="94.0" y1="463.6" x2="97.19999999999999" y2="462.4" stroke="#4a4a4a" stroke-width="0.6"/>
<line x1="93.89999999999999" y1="428.6" x2="95.6" y2="428.6" stroke="#4a4a4a" stroke-width="0.8"/>
<text x="0" y="0" font-size="7.8" text-anchor="end" font-weight="normal" font-style="normal" fill="#222" stroke="#222" stroke-width="0.22" transform="translate(93 431.40000000000003) scale(0.8 1)">180</text>
<line x1="93.89999999999999" y1="439.6" x2="95.6" y2="439.6" stroke="#4a4a4a" stroke-width="0.8"/>
<text x="0" y="0" font-size="7.8" text-anchor="end" font-weight="normal" font-style="normal" fill="#222" stroke="#222" stroke-width="0.22" transform="translate(93 442.40000000000003) scale(0.8 1)">160</text>
<line x1="93.89999999999999" y1="450.2" x2="95.6" y2="450.2" stroke="#4a4a4a" stroke-width="0.8"/>
<text x="0" y="0" font-size="7.8" text-anchor="end" font-weight="normal" font-style="normal" fill="#222" stroke="#222" stroke-width="0.22" transform="translate(93 453.0) scale(0.8 1)">140</text>
<line x1="93.89999999999999" y1="464.6" x2="95.6" y2="464.6" stroke="#4a4a4a" stroke-width="0.8"/>
<text x="0" y="0" font-size="7.8" text-anchor="end" font-weight="normal" font-style="normal" fill="#222" stroke="#222" stroke-width="0.22" transform="translate(93 467.40000000000003) scale(0.8 1)">100</text>
<line x1="93.89999999999999" y1="485" x2="95.6" y2="485" stroke="#4a4a4a" stroke-width="0.8"/>
<text x="0" y="0" font-size="7.8" text-anchor="end" font-weight="normal" font-style="normal" fill="#222" stroke="#222" stroke-width="0.22" transform="translate(93 487.8) scale(0.8 1)">80</text>
<line x1="93.89999999999999" y1="506.6" x2="95.6" y2="506.6" stroke="#4a4a4a" stroke-width="0.8"/>
<text x="0" y="0" font-size="7.8" text-anchor="end" font-weight="normal" font-style="normal" fill="#222" stroke="#222" stroke-width="0.22" transform="translate(93 509.40000000000003) scale(0.8 1)">60</text>
<rect x="101.4" y="481.4" width="9.599999999999994" height="25.600000000000023" fill="#262626" stroke="none" stroke-width="0.8"/>
<line x1="106.2" y1="481.4" x2="106.2" y2="476" stroke="#5a5a5a" stroke-width="0.9"/>
<line x1="103.32000000000001" y1="476" x2="109.08" y2="476" stroke="#5a5a5a" stroke-width="0.9"/>
<rect x="114.8" y="464.2" width="9.4" height="42.80000000000001" fill="#a9a9a9" stroke="#555" stroke-width="0.6"/>
<rect x="114.8" y="440" width="9.400000000000006" height="18.600000000000023" fill="#a9a9a9" stroke="#555" stroke-width="0.8"/>
<line x1="119.5" y1="440" x2="119.5" y2="433" stroke="#5a5a5a" stroke-width="0.9"/>
<line x1="116.67999999999999" y1="433" x2="122.32000000000001" y2="433" stroke="#5a5a5a" stroke-width="0.9"/>
<rect x="127.8" y="496" width="9.600000000000009" height="11" fill="#fff" stroke="#333" stroke-width="0.8"/>
<line x1="132.6" y1="496" x2="132.6" y2="491" stroke="#5a5a5a" stroke-width="0.9"/>
<line x1="129.72" y1="491" x2="135.48" y2="491" stroke="#5a5a5a" stroke-width="0.9"/>
<polyline points="105.7,421 105.7,415.5 132,415.5 132,421" fill="none" stroke="#333" stroke-width="0.8"/>
<text x="116.8" y="414.35" font-size="7.2" text-anchor="middle" font-weight="bold" font-style="normal" fill="#1a1a1a" stroke="#1a1a1a" stroke-width="0.22">*</text>
<polyline points="105.7,430 105.7,424.5 119.4,424.5 119.4,433" fill="none" stroke="#333" stroke-width="0.8"/>
<text x="116.8" y="423.35" font-size="7.2" text-anchor="middle" font-weight="bold" font-style="normal" fill="#1a1a1a" stroke="#1a1a1a" stroke-width="0.22">*</text>
<rect x="132.4" y="433" width="5.4" height="4.4" fill="#111" stroke="none" stroke-width="1"/>
<rect x="132.6" y="443.2" width="5" height="4.2" fill="#a9a9a9" stroke="#555" stroke-width="0.6"/>
<rect x="132.6" y="452.8" width="5" height="4.2" fill="#fff" stroke="#444" stroke-width="0.6"/>
<text x="140" y="437.4" font-size="6.7" text-anchor="start" font-weight="normal" font-style="italic" fill="#222" stroke="#222" stroke-width="0.22">control antagomiR</text>
<text x="140" y="447" font-size="6.7" text-anchor="start" font-weight="normal" font-style="italic" fill="#222" stroke="#222" stroke-width="0.22">antagomiR-139-3p</text>
<text x="140" y="457" font-size="6.7" text-anchor="start" font-weight="normal" font-style="italic" fill="#222" stroke="#222" stroke-width="0.22">antagomiR-199a-3p</text>
<text x="110" y="517.4" font-size="7.2" font-style="italic" fill="#222">-/<tspan dy="-2.4" font-size="6">-</tspan><tspan dy="2.4">292</tspan></text>
<text x="253" y="399.6" font-size="11" text-anchor="start" font-weight="bold" font-style="normal" fill="#111" stroke="#111" stroke-width="0.22">G</text>
<line x1="281" y1="428" x2="281" y2="507.79999999999995" stroke="#7c7c7c" stroke-width="1.2"/>
<line x1="280.6" y1="507.4" x2="309" y2="507.4" stroke="#6c6c6c" stroke-width="1.1"/>
<line x1="278.4" y1="439.6" x2="281" y2="439.6" stroke="#555" stroke-width="0.8"/>
<text x="276.2" y="442.6" font-size="8.4" text-anchor="end" font-weight="normal" font-style="normal" fill="#222" stroke="#222" stroke-width="0.22">3</text>
<line x1="278.4" y1="462" x2="281" y2="462" stroke="#555" stroke-width="0.8"/>
<text x="276.2" y="465" font-size="8.4" text-anchor="end" font-weight="normal" font-style="normal" fill="#222" stroke="#222" stroke-width="0.22">2</text>
<line x1="278.4" y1="484.6" x2="281" y2="484.6" stroke="#555" stroke-width="0.8"/>
<text x="276.2" y="487.6" font-size="8.4" text-anchor="end" font-weight="normal" font-style="normal" fill="#222" stroke="#222" stroke-width="0.22">1</text>
<line x1="278.4" y1="507.4" x2="281" y2="507.4" stroke="#555" stroke-width="0.8"/>
<text x="276.2" y="510.4" font-size="8.4" text-anchor="end" font-weight="normal" font-style="normal" fill="#222" stroke="#222" stroke-width="0.22">0</text>
<text x="263.8" y="470" font-size="7.5" text-anchor="middle" font-weight="normal" font-style="normal" fill="#222" stroke="#222" stroke-width="0.22" transform="rotate(-90 263.8 470)">Relative EGFP + cells</text>
<rect x="282" y="417" width="7" height="4.4" fill="#111" stroke="none" stroke-width="1"/>
<text x="291.6" y="421.6" font-size="7.2" text-anchor="start" font-weight="normal" font-style="italic" fill="#222" stroke="#222" stroke-width="0.22">EV</text>
<rect x="307.8" y="417.2" width="5.8" height="4.2" fill="#a9a9a9" stroke="#555" stroke-width="0.6"/>
<text x="0" y="0" font-size="7.2" text-anchor="start" font-weight="normal" font-style="italic" fill="#222" stroke="#222" stroke-width="0.22" transform="translate(317 421.6) scale(0.92 1)">miR-199a</text>
<polyline points="292,467 292,431 302,431 302,441" fill="none" stroke="#666" stroke-width="0.9"/>
<text x="297" y="431.85" font-size="7.2" text-anchor="middle" font-weight="bold" font-style="normal" fill="#1a1a1a" stroke="#1a1a1a" stroke-width="0.22">*</text>
<rect x="287.4" y="484.6" width="9.600000000000023" height="22.799999999999955" fill="#111" stroke="none" stroke-width="0.8"/>
<line x1="292.2" y1="484.6" x2="292.2" y2="482.4" stroke="#5a5a5a" stroke-width="0.9"/>
<line x1="289.32" y1="482.4" x2="295.08" y2="482.4" stroke="#5a5a5a" stroke-width="0.9"/>
<rect x="297.4" y="459" width="9.200000000000045" height="48.39999999999998" fill="#a9a9a9" stroke="#555" stroke-width="0.8"/>
<line x1="302.0" y1="459" x2="302.0" y2="447" stroke="#5a5a5a" stroke-width="0.9"/>
<line x1="299.24" y1="447" x2="304.76" y2="447" stroke="#5a5a5a" stroke-width="0.9"/>
<text x="295" y="517.2" font-size="7" text-anchor="middle" font-weight="normal" font-style="normal" fill="#222" stroke="#222" stroke-width="0.22">Lin- Kit+</text>

</g>
</svg>
</body></html>
